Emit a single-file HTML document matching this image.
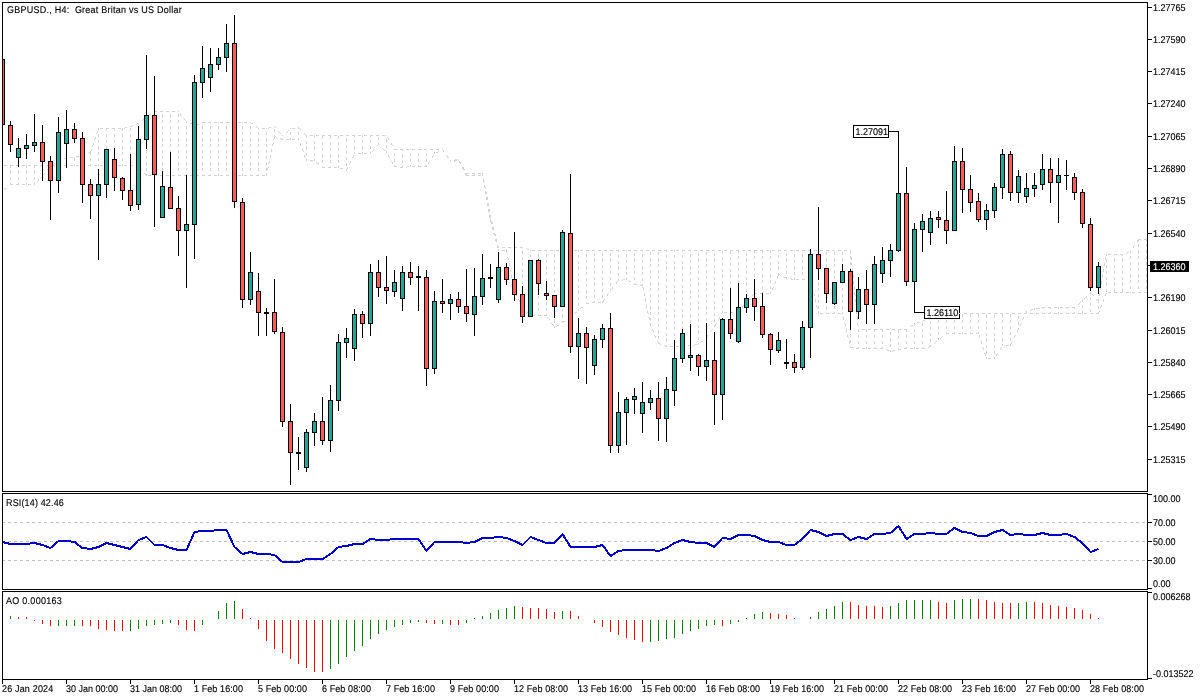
<!DOCTYPE html>
<html><head><meta charset="utf-8"><title>GBPUSD H4</title>
<style>
html,body{margin:0;padding:0;background:#fff;}
body{width:1200px;height:700px;position:relative;overflow:hidden;font-family:"Liberation Sans",sans-serif;}
svg{position:absolute;left:0;top:0;}
.t{position:absolute;font-family:"Liberation Sans",sans-serif;font-size:9px;line-height:10px;white-space:pre;color:#000;transform:scaleY(1.087);transform-origin:0 0;text-rendering:geometricPrecision;-webkit-text-stroke:0.12px;}
</style></head><body>
<svg width="1200" height="700" viewBox="0 0 1200 700" shape-rendering="crispEdges">
<rect x="889" y="131" width="10" height="1" fill="#000"/>
<rect x="853" y="125" width="36" height="13" fill="#000"/>
<rect x="854" y="126" width="34" height="11" fill="#fff"/>
<rect x="914" y="312" width="10" height="1" fill="#000"/>
<rect x="924" y="306" width="36" height="13" fill="#000"/>
<rect x="925" y="307" width="34" height="11" fill="#fff"/>
<path fill="#D3D3D3" d="M154 111h3v1h-3zM160 111h3v1h-3zM166 111h3v1h-3zM172 111h3v1h-3zM178 111h1v1h-1zM180 113h1v1h-1zM149 114h2v1h-2zM154 114h1v1h-1zM162 114h1v1h-1zM170 114h1v1h-1zM178 114h1v1h-1zM180 114h1v1h-1zM148 115h1v1h-1zM154 115h1v1h-1zM162 115h1v1h-1zM170 115h1v1h-1zM178 115h1v1h-1zM181 115h1v1h-1zM146 116h1v1h-1zM154 116h1v1h-1zM162 116h1v1h-1zM170 116h1v1h-1zM178 116h1v1h-1zM144 118h1v1h-1zM143 119h1v1h-1zM184 119h1v1h-1zM142 120h1v1h-1zM146 120h1v1h-1zM154 120h1v1h-1zM162 120h1v1h-1zM170 120h1v1h-1zM178 120h1v1h-1zM185 120h1v1h-1zM146 121h1v1h-1zM154 121h1v1h-1zM162 121h1v1h-1zM170 121h1v1h-1zM178 121h1v1h-1zM186 121h1v1h-1zM146 122h1v1h-1zM154 122h1v1h-1zM162 122h1v1h-1zM170 122h1v1h-1zM178 122h1v1h-1zM186 122h1v1h-1zM202 122h3v1h-3zM208 122h3v1h-3zM214 122h3v1h-3zM218 122h1v1h-1zM220 122h3v1h-3zM226 122h3v1h-3zM232 122h3v1h-3zM238 122h3v1h-3zM242 122h1v1h-1zM244 122h3v1h-3zM250 122h1v1h-1zM137 123h2v1h-2zM190 123h2v1h-2zM251 123h2v1h-2zM136 124h1v1h-1zM138 124h1v1h-1zM192 124h1v1h-1zM196 124h3v1h-3zM132 125h1v1h-1zM130 126h2v1h-2zM146 126h1v1h-1zM154 126h1v1h-1zM162 126h1v1h-1zM170 126h1v1h-1zM178 126h1v1h-1zM186 126h1v1h-1zM194 126h1v1h-1zM202 126h1v1h-1zM210 126h1v1h-1zM218 126h1v1h-1zM226 126h1v1h-1zM234 126h1v1h-1zM242 126h1v1h-1zM250 126h1v1h-1zM256 126h1v1h-1zM274 126h1v1h-1zM125 127h2v1h-2zM146 127h1v1h-1zM154 127h1v1h-1zM162 127h1v1h-1zM170 127h1v1h-1zM178 127h1v1h-1zM186 127h1v1h-1zM194 127h1v1h-1zM202 127h1v1h-1zM210 127h1v1h-1zM218 127h1v1h-1zM226 127h1v1h-1zM234 127h1v1h-1zM242 127h1v1h-1zM250 127h1v1h-1zM257 127h1v1h-1zM269 127h2v1h-2zM275 127h1v1h-1zM298 127h1v1h-1zM98 128h1v1h-1zM100 128h3v1h-3zM106 128h3v1h-3zM112 128h3v1h-3zM118 128h3v1h-3zM122 128h1v1h-1zM124 128h1v1h-1zM130 128h1v1h-1zM138 128h1v1h-1zM146 128h1v1h-1zM154 128h1v1h-1zM162 128h1v1h-1zM170 128h1v1h-1zM178 128h1v1h-1zM186 128h1v1h-1zM194 128h1v1h-1zM202 128h1v1h-1zM210 128h1v1h-1zM218 128h1v1h-1zM226 128h1v1h-1zM234 128h1v1h-1zM242 128h1v1h-1zM250 128h1v1h-1zM258 128h1v1h-1zM262 128h3v1h-3zM266 128h1v1h-1zM268 128h1v1h-1zM290 128h1v1h-1zM292 128h3v1h-3zM298 128h2v1h-2zM98 129h1v1h-1zM106 129h1v1h-1zM114 129h1v1h-1zM122 129h1v1h-1zM130 129h1v1h-1zM138 129h1v1h-1zM274 129h1v1h-1zM300 129h1v1h-1zM98 130h1v1h-1zM106 130h1v1h-1zM114 130h1v1h-1zM122 130h1v1h-1zM130 130h1v1h-1zM138 130h1v1h-1zM274 130h1v1h-1zM288 130h1v1h-1zM97 131h1v1h-1zM274 131h1v1h-1zM278 131h1v1h-1zM287 131h1v1h-1zM97 132h1v1h-1zM146 132h1v1h-1zM154 132h1v1h-1zM162 132h1v1h-1zM170 132h1v1h-1zM178 132h1v1h-1zM186 132h1v1h-1zM194 132h1v1h-1zM202 132h1v1h-1zM210 132h1v1h-1zM218 132h1v1h-1zM226 132h1v1h-1zM234 132h1v1h-1zM242 132h1v1h-1zM250 132h1v1h-1zM258 132h1v1h-1zM266 132h1v1h-1zM279 132h1v1h-1zM286 132h1v1h-1zM290 132h1v1h-1zM298 132h1v1h-1zM96 133h1v1h-1zM146 133h1v1h-1zM154 133h1v1h-1zM162 133h1v1h-1zM170 133h1v1h-1zM178 133h1v1h-1zM186 133h1v1h-1zM194 133h1v1h-1zM202 133h1v1h-1zM210 133h1v1h-1zM218 133h1v1h-1zM226 133h1v1h-1zM234 133h1v1h-1zM242 133h1v1h-1zM250 133h1v1h-1zM258 133h1v1h-1zM266 133h1v1h-1zM280 133h1v1h-1zM290 133h1v1h-1zM298 133h1v1h-1zM304 133h1v1h-1zM98 134h1v1h-1zM106 134h1v1h-1zM114 134h1v1h-1zM122 134h1v1h-1zM130 134h1v1h-1zM138 134h1v1h-1zM146 134h1v1h-1zM154 134h1v1h-1zM162 134h1v1h-1zM170 134h1v1h-1zM178 134h1v1h-1zM186 134h1v1h-1zM194 134h1v1h-1zM202 134h1v1h-1zM210 134h1v1h-1zM218 134h1v1h-1zM226 134h1v1h-1zM234 134h1v1h-1zM242 134h1v1h-1zM250 134h1v1h-1zM258 134h1v1h-1zM266 134h1v1h-1zM290 134h1v1h-1zM298 134h1v1h-1zM305 134h1v1h-1zM98 135h1v1h-1zM106 135h1v1h-1zM114 135h1v1h-1zM122 135h1v1h-1zM130 135h1v1h-1zM138 135h1v1h-1zM274 135h1v1h-1zM282 135h1v1h-1zM306 135h1v1h-1zM310 135h3v1h-3zM314 135h1v1h-1zM316 135h3v1h-3zM322 135h3v1h-3zM328 135h3v1h-3zM334 135h3v1h-3zM340 135h3v1h-3zM346 135h3v1h-3zM352 135h3v1h-3zM358 135h3v1h-3zM362 135h1v1h-1zM364 135h3v1h-3zM370 135h3v1h-3zM376 135h3v1h-3zM382 135h3v1h-3zM386 135h1v1h-1zM98 136h1v1h-1zM106 136h1v1h-1zM114 136h1v1h-1zM122 136h1v1h-1zM130 136h1v1h-1zM138 136h1v1h-1zM274 136h2v1h-2zM306 136h1v1h-1zM314 136h1v1h-1zM322 136h1v1h-1zM330 136h1v1h-1zM338 136h1v1h-1zM354 136h1v1h-1zM362 136h1v1h-1zM370 136h1v1h-1zM95 137h1v1h-1zM274 137h1v1h-1zM276 137h1v1h-1zM306 137h1v1h-1zM314 137h1v1h-1zM322 137h1v1h-1zM330 137h1v1h-1zM338 137h1v1h-1zM378 137h1v1h-1zM387 137h1v1h-1zM95 138h1v1h-1zM146 138h1v1h-1zM154 138h1v1h-1zM162 138h1v1h-1zM170 138h1v1h-1zM178 138h1v1h-1zM186 138h1v1h-1zM194 138h1v1h-1zM202 138h1v1h-1zM210 138h1v1h-1zM218 138h1v1h-1zM226 138h1v1h-1zM234 138h1v1h-1zM242 138h1v1h-1zM250 138h1v1h-1zM258 138h1v1h-1zM266 138h1v1h-1zM274 138h1v1h-1zM280 138h1v1h-1zM282 138h1v1h-1zM290 138h1v1h-1zM298 138h1v1h-1zM322 138h1v1h-1zM330 138h1v1h-1zM338 138h1v1h-1zM378 138h1v1h-1zM388 138h1v1h-1zM94 139h1v1h-1zM146 139h1v1h-1zM154 139h1v1h-1zM162 139h1v1h-1zM170 139h1v1h-1zM178 139h1v1h-1zM186 139h1v1h-1zM194 139h1v1h-1zM202 139h1v1h-1zM210 139h1v1h-1zM218 139h1v1h-1zM226 139h1v1h-1zM234 139h1v1h-1zM242 139h1v1h-1zM250 139h1v1h-1zM258 139h1v1h-1zM266 139h1v1h-1zM273 139h1v1h-1zM281 139h2v1h-2zM286 139h3v1h-3zM290 139h1v1h-1zM292 139h3v1h-3zM298 139h1v1h-1zM346 139h1v1h-1zM378 139h1v1h-1zM386 139h1v1h-1zM388 139h1v1h-1zM98 140h1v1h-1zM106 140h1v1h-1zM114 140h1v1h-1zM122 140h1v1h-1zM130 140h1v1h-1zM138 140h1v1h-1zM146 140h1v1h-1zM154 140h1v1h-1zM162 140h1v1h-1zM170 140h1v1h-1zM178 140h1v1h-1zM186 140h1v1h-1zM194 140h1v1h-1zM202 140h1v1h-1zM210 140h1v1h-1zM218 140h1v1h-1zM226 140h1v1h-1zM234 140h1v1h-1zM242 140h1v1h-1zM250 140h1v1h-1zM258 140h1v1h-1zM266 140h1v1h-1zM346 140h1v1h-1zM354 140h1v1h-1zM362 140h1v1h-1zM370 140h1v1h-1zM386 140h1v1h-1zM98 141h1v1h-1zM106 141h1v1h-1zM114 141h1v1h-1zM122 141h1v1h-1zM130 141h1v1h-1zM138 141h1v1h-1zM306 141h1v1h-1zM314 141h1v1h-1zM346 141h1v1h-1zM354 141h1v1h-1zM362 141h1v1h-1zM370 141h1v1h-1zM386 141h1v1h-1zM98 142h1v1h-1zM106 142h1v1h-1zM114 142h1v1h-1zM122 142h1v1h-1zM130 142h1v1h-1zM138 142h1v1h-1zM306 142h1v1h-1zM314 142h1v1h-1zM322 142h1v1h-1zM330 142h1v1h-1zM338 142h1v1h-1zM354 142h1v1h-1zM362 142h1v1h-1zM370 142h1v1h-1zM93 143h1v1h-1zM273 143h1v1h-1zM300 143h1v1h-1zM306 143h1v1h-1zM314 143h1v1h-1zM322 143h1v1h-1zM330 143h1v1h-1zM338 143h1v1h-1zM378 143h1v1h-1zM391 143h1v1h-1zM93 144h1v1h-1zM146 144h1v1h-1zM154 144h1v1h-1zM162 144h1v1h-1zM170 144h1v1h-1zM178 144h1v1h-1zM186 144h1v1h-1zM194 144h1v1h-1zM202 144h1v1h-1zM210 144h1v1h-1zM218 144h1v1h-1zM226 144h1v1h-1zM234 144h1v1h-1zM242 144h1v1h-1zM250 144h1v1h-1zM258 144h1v1h-1zM266 144h1v1h-1zM272 144h1v1h-1zM300 144h1v1h-1zM322 144h1v1h-1zM330 144h1v1h-1zM338 144h1v1h-1zM378 144h1v1h-1zM391 144h1v1h-1zM92 145h1v1h-1zM146 145h1v1h-1zM154 145h1v1h-1zM162 145h1v1h-1zM170 145h1v1h-1zM178 145h1v1h-1zM186 145h1v1h-1zM194 145h1v1h-1zM202 145h1v1h-1zM210 145h1v1h-1zM218 145h1v1h-1zM226 145h1v1h-1zM234 145h1v1h-1zM242 145h1v1h-1zM250 145h1v1h-1zM258 145h1v1h-1zM266 145h1v1h-1zM272 145h1v1h-1zM300 145h1v1h-1zM346 145h1v1h-1zM377 145h1v1h-1zM386 145h1v1h-1zM392 145h1v1h-1zM98 146h1v1h-1zM106 146h1v1h-1zM114 146h1v1h-1zM122 146h1v1h-1zM130 146h1v1h-1zM138 146h1v1h-1zM146 146h1v1h-1zM154 146h1v1h-1zM162 146h1v1h-1zM170 146h1v1h-1zM178 146h1v1h-1zM186 146h1v1h-1zM194 146h1v1h-1zM202 146h1v1h-1zM210 146h1v1h-1zM218 146h1v1h-1zM226 146h1v1h-1zM234 146h1v1h-1zM242 146h1v1h-1zM250 146h1v1h-1zM258 146h1v1h-1zM266 146h1v1h-1zM346 146h1v1h-1zM354 146h1v1h-1zM362 146h1v1h-1zM370 146h1v1h-1zM386 146h1v1h-1zM98 147h1v1h-1zM106 147h1v1h-1zM114 147h1v1h-1zM122 147h1v1h-1zM130 147h1v1h-1zM138 147h1v1h-1zM306 147h1v1h-1zM314 147h1v1h-1zM346 147h1v1h-1zM354 147h1v1h-1zM362 147h1v1h-1zM370 147h1v1h-1zM386 147h1v1h-1zM98 148h1v1h-1zM106 148h1v1h-1zM114 148h1v1h-1zM122 148h1v1h-1zM130 148h1v1h-1zM138 148h1v1h-1zM306 148h1v1h-1zM314 148h1v1h-1zM322 148h1v1h-1zM330 148h1v1h-1zM338 148h1v1h-1zM354 148h1v1h-1zM362 148h1v1h-1zM370 148h1v1h-1zM382 148h1v1h-1zM91 149h1v1h-1zM271 149h1v1h-1zM302 149h1v1h-1zM306 149h1v1h-1zM314 149h1v1h-1zM322 149h1v1h-1zM330 149h1v1h-1zM338 149h1v1h-1zM374 149h1v1h-1zM383 149h1v1h-1zM394 149h3v1h-3zM400 149h3v1h-3zM406 149h3v1h-3zM410 149h1v1h-1zM412 149h3v1h-3zM418 149h3v1h-3zM424 149h3v1h-3zM430 149h3v1h-3zM436 149h3v1h-3zM442 149h1v1h-1zM91 150h1v1h-1zM146 150h1v1h-1zM154 150h1v1h-1zM162 150h1v1h-1zM170 150h1v1h-1zM178 150h1v1h-1zM186 150h1v1h-1zM194 150h1v1h-1zM202 150h1v1h-1zM210 150h1v1h-1zM218 150h1v1h-1zM226 150h1v1h-1zM234 150h1v1h-1zM242 150h1v1h-1zM250 150h1v1h-1zM258 150h1v1h-1zM266 150h1v1h-1zM271 150h1v1h-1zM302 150h1v1h-1zM322 150h1v1h-1zM330 150h1v1h-1zM338 150h1v1h-1zM373 150h1v1h-1zM384 150h1v1h-1zM402 150h1v1h-1zM443 150h1v1h-1zM90 151h1v1h-1zM146 151h1v1h-1zM154 151h1v1h-1zM162 151h1v1h-1zM170 151h1v1h-1zM178 151h1v1h-1zM186 151h1v1h-1zM194 151h1v1h-1zM202 151h1v1h-1zM210 151h1v1h-1zM218 151h1v1h-1zM226 151h1v1h-1zM234 151h1v1h-1zM242 151h1v1h-1zM250 151h1v1h-1zM258 151h1v1h-1zM266 151h1v1h-1zM271 151h1v1h-1zM303 151h1v1h-1zM346 151h1v1h-1zM372 151h1v1h-1zM386 151h1v1h-1zM438 151h1v1h-1zM443 151h1v1h-1zM89 152h2v1h-2zM98 152h1v1h-1zM106 152h1v1h-1zM114 152h1v1h-1zM122 152h1v1h-1zM130 152h1v1h-1zM138 152h1v1h-1zM146 152h1v1h-1zM154 152h1v1h-1zM162 152h1v1h-1zM170 152h1v1h-1zM178 152h1v1h-1zM186 152h1v1h-1zM194 152h1v1h-1zM202 152h1v1h-1zM210 152h1v1h-1zM218 152h1v1h-1zM226 152h1v1h-1zM234 152h1v1h-1zM242 152h1v1h-1zM250 152h1v1h-1zM258 152h1v1h-1zM266 152h1v1h-1zM346 152h1v1h-1zM354 152h1v1h-1zM362 152h1v1h-1zM370 152h1v1h-1zM386 152h1v1h-1zM434 152h1v1h-1zM436 152h2v1h-2zM88 153h1v1h-1zM90 153h1v1h-1zM98 153h1v1h-1zM106 153h1v1h-1zM114 153h1v1h-1zM122 153h1v1h-1zM130 153h1v1h-1zM138 153h1v1h-1zM306 153h1v1h-1zM314 153h1v1h-1zM346 153h1v1h-1zM354 153h1v1h-1zM358 153h3v1h-3zM362 153h1v1h-1zM364 153h3v1h-3zM370 153h1v1h-1zM394 153h1v1h-1zM410 153h1v1h-1zM418 153h1v1h-1zM426 153h1v1h-1zM434 153h1v1h-1zM82 154h3v1h-3zM90 154h1v1h-1zM98 154h1v1h-1zM106 154h1v1h-1zM114 154h1v1h-1zM122 154h1v1h-1zM130 154h1v1h-1zM138 154h1v1h-1zM306 154h1v1h-1zM314 154h1v1h-1zM322 154h1v1h-1zM330 154h1v1h-1zM338 154h1v1h-1zM394 154h1v1h-1zM402 154h1v1h-1zM410 154h1v1h-1zM418 154h1v1h-1zM426 154h1v1h-1zM270 155h1v1h-1zM304 155h1v1h-1zM306 155h1v1h-1zM314 155h1v1h-1zM322 155h1v1h-1zM330 155h1v1h-1zM338 155h1v1h-1zM353 155h1v1h-1zM388 155h1v1h-1zM394 155h1v1h-1zM402 155h1v1h-1zM410 155h1v1h-1zM418 155h1v1h-1zM426 155h1v1h-1zM433 155h1v1h-1zM446 155h1v1h-1zM76 156h3v1h-3zM146 156h1v1h-1zM154 156h1v1h-1zM162 156h1v1h-1zM170 156h1v1h-1zM178 156h1v1h-1zM186 156h1v1h-1zM194 156h1v1h-1zM202 156h1v1h-1zM210 156h1v1h-1zM218 156h1v1h-1zM226 156h1v1h-1zM234 156h1v1h-1zM242 156h1v1h-1zM250 156h1v1h-1zM258 156h1v1h-1zM266 156h1v1h-1zM270 156h1v1h-1zM304 156h1v1h-1zM322 156h1v1h-1zM330 156h1v1h-1zM338 156h1v1h-1zM353 156h1v1h-1zM388 156h1v1h-1zM402 156h1v1h-1zM432 156h1v1h-1zM447 156h1v1h-1zM66 157h1v1h-1zM70 157h3v1h-3zM146 157h1v1h-1zM154 157h1v1h-1zM162 157h1v1h-1zM170 157h1v1h-1zM178 157h1v1h-1zM186 157h1v1h-1zM194 157h1v1h-1zM202 157h1v1h-1zM210 157h1v1h-1zM218 157h1v1h-1zM226 157h1v1h-1zM234 157h1v1h-1zM242 157h1v1h-1zM250 157h1v1h-1zM258 157h1v1h-1zM266 157h1v1h-1zM270 157h1v1h-1zM305 157h1v1h-1zM346 157h1v1h-1zM352 157h1v1h-1zM389 157h1v1h-1zM432 157h1v1h-1zM447 157h2v1h-2zM64 158h3v1h-3zM74 158h1v1h-1zM82 158h1v1h-1zM90 158h1v1h-1zM98 158h1v1h-1zM106 158h1v1h-1zM114 158h1v1h-1zM122 158h1v1h-1zM130 158h1v1h-1zM138 158h1v1h-1zM146 158h1v1h-1zM154 158h1v1h-1zM162 158h1v1h-1zM170 158h1v1h-1zM178 158h1v1h-1zM186 158h1v1h-1zM194 158h1v1h-1zM202 158h1v1h-1zM210 158h1v1h-1zM218 158h1v1h-1zM226 158h1v1h-1zM234 158h1v1h-1zM242 158h1v1h-1zM250 158h1v1h-1zM258 158h1v1h-1zM266 158h1v1h-1zM346 158h1v1h-1zM66 159h1v1h-1zM74 159h1v1h-1zM82 159h1v1h-1zM90 159h1v1h-1zM98 159h1v1h-1zM106 159h1v1h-1zM114 159h1v1h-1zM122 159h1v1h-1zM130 159h1v1h-1zM138 159h1v1h-1zM306 159h1v1h-1zM314 159h1v1h-1zM346 159h1v1h-1zM394 159h1v1h-1zM410 159h1v1h-1zM418 159h1v1h-1zM426 159h1v1h-1zM455 159h2v1h-2zM458 159h1v1h-1zM60 160h1v1h-1zM66 160h1v1h-1zM74 160h1v1h-1zM82 160h1v1h-1zM90 160h1v1h-1zM98 160h1v1h-1zM106 160h1v1h-1zM114 160h1v1h-1zM122 160h1v1h-1zM130 160h1v1h-1zM138 160h1v1h-1zM306 160h1v1h-1zM310 160h3v1h-3zM314 160h1v1h-1zM322 160h1v1h-1zM330 160h1v1h-1zM338 160h1v1h-1zM394 160h1v1h-1zM402 160h1v1h-1zM410 160h1v1h-1zM418 160h1v1h-1zM426 160h1v1h-1zM450 160h1v1h-1zM454 160h3v1h-3zM458 160h1v1h-1zM58 161h2v1h-2zM269 161h1v1h-1zM322 161h1v1h-1zM330 161h1v1h-1zM338 161h1v1h-1zM350 161h1v1h-1zM391 161h1v1h-1zM394 161h1v1h-1zM402 161h1v1h-1zM410 161h1v1h-1zM418 161h1v1h-1zM426 161h1v1h-1zM429 161h1v1h-1zM450 161h1v1h-1zM454 161h1v1h-1zM459 161h1v1h-1zM146 162h1v1h-1zM154 162h1v1h-1zM162 162h1v1h-1zM170 162h1v1h-1zM178 162h1v1h-1zM186 162h1v1h-1zM194 162h1v1h-1zM202 162h1v1h-1zM210 162h1v1h-1zM218 162h1v1h-1zM226 162h1v1h-1zM234 162h1v1h-1zM242 162h1v1h-1zM250 162h1v1h-1zM258 162h1v1h-1zM266 162h1v1h-1zM269 162h1v1h-1zM316 162h1v1h-1zM322 162h1v1h-1zM330 162h1v1h-1zM338 162h1v1h-1zM350 162h1v1h-1zM392 162h1v1h-1zM402 162h1v1h-1zM428 162h1v1h-1zM459 162h2v1h-2zM54 163h1v1h-1zM146 163h1v1h-1zM154 163h1v1h-1zM162 163h1v1h-1zM170 163h1v1h-1zM178 163h1v1h-1zM186 163h1v1h-1zM194 163h1v1h-1zM202 163h1v1h-1zM210 163h1v1h-1zM218 163h1v1h-1zM226 163h1v1h-1zM234 163h1v1h-1zM242 163h1v1h-1zM250 163h1v1h-1zM258 163h1v1h-1zM266 163h1v1h-1zM268 163h1v1h-1zM317 163h2v1h-2zM346 163h1v1h-1zM349 163h1v1h-1zM392 163h1v1h-1zM428 163h1v1h-1zM460 163h1v1h-1zM52 164h2v1h-2zM58 164h1v1h-1zM66 164h1v1h-1zM74 164h1v1h-1zM82 164h1v1h-1zM90 164h1v1h-1zM98 164h1v1h-1zM106 164h1v1h-1zM114 164h1v1h-1zM122 164h1v1h-1zM130 164h1v1h-1zM138 164h1v1h-1zM146 164h1v1h-1zM154 164h1v1h-1zM162 164h1v1h-1zM170 164h1v1h-1zM178 164h1v1h-1zM186 164h1v1h-1zM194 164h1v1h-1zM202 164h1v1h-1zM210 164h1v1h-1zM218 164h1v1h-1zM226 164h1v1h-1zM234 164h1v1h-1zM242 164h1v1h-1zM250 164h1v1h-1zM258 164h1v1h-1zM266 164h1v1h-1zM346 164h1v1h-1zM4 165h3v1h-3zM10 165h3v1h-3zM16 165h3v1h-3zM22 165h3v1h-3zM26 165h1v1h-1zM28 165h3v1h-3zM34 165h3v1h-3zM40 165h3v1h-3zM46 165h3v1h-3zM50 165h1v1h-1zM52 165h3v1h-3zM58 165h3v1h-3zM64 165h3v1h-3zM70 165h3v1h-3zM74 165h1v1h-1zM76 165h3v1h-3zM82 165h3v1h-3zM88 165h3v1h-3zM94 165h3v1h-3zM98 165h1v1h-1zM100 165h3v1h-3zM106 165h3v1h-3zM112 165h3v1h-3zM118 165h3v1h-3zM122 165h1v1h-1zM124 165h3v1h-3zM130 165h3v1h-3zM136 165h3v1h-3zM346 165h1v1h-1zM394 165h1v1h-1zM410 165h1v1h-1zM418 165h1v1h-1zM426 165h1v1h-1zM10 166h1v1h-1zM18 166h1v1h-1zM26 166h1v1h-1zM34 166h1v1h-1zM322 166h1v1h-1zM330 166h1v1h-1zM338 166h1v1h-1zM394 166h3v1h-3zM402 166h1v1h-1zM407 166h2v1h-2zM410 166h1v1h-1zM412 166h3v1h-3zM418 166h3v1h-3zM424 166h3v1h-3zM10 167h1v1h-1zM18 167h1v1h-1zM26 167h1v1h-1zM34 167h1v1h-1zM48 167h1v1h-1zM140 167h1v1h-1zM268 167h1v1h-1zM322 167h3v1h-3zM328 167h3v1h-3zM334 167h3v1h-3zM338 167h1v1h-1zM347 167h1v1h-1zM400 167h3v1h-3zM406 167h1v1h-1zM462 167h2v1h-2zM42 168h1v1h-1zM48 168h1v1h-1zM140 168h1v1h-1zM146 168h1v1h-1zM154 168h1v1h-1zM162 168h1v1h-1zM170 168h1v1h-1zM178 168h1v1h-1zM186 168h1v1h-1zM194 168h1v1h-1zM202 168h1v1h-1zM210 168h1v1h-1zM218 168h1v1h-1zM226 168h1v1h-1zM234 168h1v1h-1zM242 168h1v1h-1zM250 168h1v1h-1zM258 168h1v1h-1zM266 168h2v1h-2zM340 168h3v1h-3zM347 168h1v1h-1zM462 168h2v1h-2zM42 169h1v1h-1zM47 169h1v1h-1zM141 169h1v1h-1zM146 169h1v1h-1zM154 169h1v1h-1zM162 169h1v1h-1zM170 169h1v1h-1zM178 169h1v1h-1zM186 169h1v1h-1zM194 169h1v1h-1zM202 169h1v1h-1zM210 169h1v1h-1zM218 169h1v1h-1zM226 169h1v1h-1zM234 169h1v1h-1zM242 169h1v1h-1zM250 169h1v1h-1zM258 169h1v1h-1zM266 169h2v1h-2zM346 169h1v1h-1zM463 169h2v1h-2zM42 170h1v1h-1zM146 170h1v1h-1zM154 170h1v1h-1zM162 170h1v1h-1zM170 170h1v1h-1zM178 170h1v1h-1zM186 170h1v1h-1zM194 170h1v1h-1zM202 170h1v1h-1zM210 170h1v1h-1zM218 170h1v1h-1zM226 170h1v1h-1zM234 170h1v1h-1zM242 170h1v1h-1zM250 170h1v1h-1zM258 170h1v1h-1zM266 170h1v1h-1zM346 170h1v1h-1zM10 171h1v1h-1zM18 171h1v1h-1zM26 171h1v1h-1zM34 171h1v1h-1zM10 172h1v1h-1zM18 172h1v1h-1zM26 172h1v1h-1zM34 172h1v1h-1zM10 173h1v1h-1zM18 173h1v1h-1zM26 173h1v1h-1zM34 173h1v1h-1zM44 173h1v1h-1zM144 173h1v1h-1zM266 173h1v1h-1zM465 173h4v1h-4zM472 173h3v1h-3zM478 173h3v1h-3zM482 173h1v1h-1zM42 174h2v1h-2zM145 174h2v1h-2zM154 174h1v1h-1zM162 174h1v1h-1zM170 174h1v1h-1zM178 174h1v1h-1zM186 174h1v1h-1zM194 174h1v1h-1zM202 174h1v1h-1zM210 174h1v1h-1zM218 174h1v1h-1zM226 174h1v1h-1zM234 174h1v1h-1zM242 174h1v1h-1zM250 174h1v1h-1zM258 174h1v1h-1zM266 174h1v1h-1zM465 174h2v1h-2zM474 174h1v1h-1zM482 174h1v1h-1zM42 175h1v1h-1zM146 175h1v1h-1zM148 175h3v1h-3zM154 175h3v1h-3zM160 175h3v1h-3zM166 175h3v1h-3zM170 175h1v1h-1zM172 175h3v1h-3zM178 175h3v1h-3zM184 175h3v1h-3zM190 175h3v1h-3zM194 175h1v1h-1zM196 175h3v1h-3zM202 175h3v1h-3zM208 175h3v1h-3zM214 175h3v1h-3zM218 175h1v1h-1zM220 175h3v1h-3zM226 175h3v1h-3zM232 175h3v1h-3zM238 175h3v1h-3zM242 175h1v1h-1zM244 175h3v1h-3zM250 175h3v1h-3zM256 175h3v1h-3zM262 175h3v1h-3zM266 175h1v1h-1zM466 175h3v1h-3zM472 175h3v1h-3zM478 175h3v1h-3zM482 175h1v1h-1zM10 177h1v1h-1zM18 177h1v1h-1zM26 177h1v1h-1zM34 177h1v1h-1zM10 178h1v1h-1zM18 178h1v1h-1zM26 178h1v1h-1zM34 178h1v1h-1zM10 179h1v1h-1zM18 179h1v1h-1zM26 179h1v1h-1zM34 179h1v1h-1zM38 179h1v1h-1zM483 179h1v1h-1zM38 180h1v1h-1zM483 180h1v1h-1zM37 181h1v1h-1zM483 181h2v1h-2zM10 183h1v1h-1zM18 183h1v1h-1zM26 183h1v1h-1zM34 183h1v1h-1zM10 184h3v1h-3zM16 184h3v1h-3zM22 184h3v1h-3zM26 184h1v1h-1zM28 184h3v1h-3zM34 184h1v1h-1zM484 185h1v1h-1zM484 186h1v1h-1zM484 187h2v1h-2zM5 188h2v1h-2zM4 189h1v1h-1zM485 191h1v1h-1zM485 192h2v1h-2zM485 193h2v1h-2zM486 197h2v1h-2zM486 198h2v1h-2zM486 199h2v1h-2zM487 203h2v1h-2zM487 204h2v1h-2zM487 205h2v1h-2zM488 209h2v1h-2zM488 210h2v1h-2zM488 211h2v1h-2zM489 215h2v1h-2zM489 216h2v1h-2zM489 217h2v1h-2zM490 219h1v1h-1zM490 220h1v1h-1zM490 221h2v1h-2zM491 222h2v1h-2zM491 223h2v1h-2zM492 227h2v1h-2zM492 228h2v1h-2zM492 229h2v1h-2zM493 233h2v1h-2zM494 234h2v1h-2zM494 235h2v1h-2zM495 239h2v1h-2zM1138 239h3v1h-3zM1144 239h3v1h-3zM495 240h2v1h-2zM1137 240h2v1h-2zM1146 240h1v1h-1zM496 241h1v1h-1zM1137 241h1v1h-1zM1138 244h1v1h-1zM1146 244h1v1h-1zM497 245h1v1h-1zM1134 245h1v1h-1zM1138 245h1v1h-1zM1146 245h1v1h-1zM497 246h2v1h-2zM1133 246h1v1h-1zM1138 246h1v1h-1zM1146 246h1v1h-1zM497 247h2v1h-2zM502 247h3v1h-3zM508 247h3v1h-3zM514 247h3v1h-3zM520 247h3v1h-3zM1133 247h1v1h-1zM514 248h1v1h-1zM526 248h1v1h-1zM498 249h1v1h-1zM506 249h1v1h-1zM514 249h1v1h-1zM527 249h2v1h-2zM498 250h1v1h-1zM502 250h3v1h-3zM506 250h1v1h-1zM514 250h1v1h-1zM530 250h1v1h-1zM532 250h3v1h-3zM538 250h3v1h-3zM544 250h3v1h-3zM550 250h3v1h-3zM554 250h1v1h-1zM556 250h3v1h-3zM562 250h3v1h-3zM568 250h3v1h-3zM574 250h3v1h-3zM578 250h1v1h-1zM580 250h3v1h-3zM586 250h3v1h-3zM592 250h3v1h-3zM598 250h3v1h-3zM604 250h3v1h-3zM610 250h3v1h-3zM616 250h3v1h-3zM622 250h3v1h-3zM626 250h1v1h-1zM628 250h3v1h-3zM634 250h3v1h-3zM640 250h3v1h-3zM646 250h3v1h-3zM652 250h3v1h-3zM658 250h3v1h-3zM664 250h3v1h-3zM670 250h3v1h-3zM674 250h1v1h-1zM676 250h3v1h-3zM682 250h3v1h-3zM688 250h3v1h-3zM694 250h3v1h-3zM700 250h3v1h-3zM706 250h3v1h-3zM712 250h3v1h-3zM718 250h3v1h-3zM724 250h3v1h-3zM730 250h3v1h-3zM736 250h3v1h-3zM742 250h3v1h-3zM748 250h3v1h-3zM754 250h3v1h-3zM760 250h3v1h-3zM766 250h3v1h-3zM770 250h1v1h-1zM772 250h3v1h-3zM778 250h3v1h-3zM784 250h3v1h-3zM790 250h3v1h-3zM794 250h1v1h-1zM796 250h3v1h-3zM802 250h3v1h-3zM808 250h3v1h-3zM814 250h3v1h-3zM820 250h3v1h-3zM826 250h3v1h-3zM832 250h3v1h-3zM838 250h3v1h-3zM844 250h3v1h-3zM850 250h1v1h-1zM1138 250h1v1h-1zM1146 250h1v1h-1zM506 251h1v1h-1zM522 251h1v1h-1zM562 251h1v1h-1zM570 251h1v1h-1zM578 251h1v1h-1zM618 251h1v1h-1zM666 251h1v1h-1zM674 251h1v1h-1zM682 251h1v1h-1zM722 251h1v1h-1zM730 251h1v1h-1zM738 251h1v1h-1zM754 251h1v1h-1zM762 251h1v1h-1zM770 251h1v1h-1zM778 251h1v1h-1zM850 251h1v1h-1zM1130 251h1v1h-1zM1138 251h1v1h-1zM1146 251h1v1h-1zM506 252h1v1h-1zM522 252h1v1h-1zM650 252h1v1h-1zM658 252h1v1h-1zM706 252h1v1h-1zM722 252h1v1h-1zM730 252h1v1h-1zM738 252h1v1h-1zM754 252h1v1h-1zM762 252h1v1h-1zM770 252h1v1h-1zM818 252h1v1h-1zM826 252h1v1h-1zM834 252h1v1h-1zM842 252h1v1h-1zM850 252h1v1h-1zM1127 252h2v1h-2zM1130 252h1v1h-1zM1138 252h1v1h-1zM1146 252h1v1h-1zM507 253h1v1h-1zM522 253h1v1h-1zM594 253h1v1h-1zM602 253h1v1h-1zM610 253h1v1h-1zM634 253h1v1h-1zM650 253h1v1h-1zM658 253h1v1h-1zM698 253h1v1h-1zM706 253h1v1h-1zM714 253h1v1h-1zM722 253h1v1h-1zM730 253h1v1h-1zM746 253h1v1h-1zM786 253h1v1h-1zM818 253h1v1h-1zM826 253h1v1h-1zM834 253h1v1h-1zM842 253h1v1h-1zM850 253h1v1h-1zM1126 253h1v1h-1zM514 254h1v1h-1zM530 254h1v1h-1zM538 254h1v1h-1zM546 254h1v1h-1zM554 254h1v1h-1zM586 254h1v1h-1zM594 254h1v1h-1zM602 254h1v1h-1zM610 254h1v1h-1zM626 254h1v1h-1zM634 254h1v1h-1zM642 254h1v1h-1zM650 254h1v1h-1zM658 254h1v1h-1zM690 254h1v1h-1zM698 254h1v1h-1zM706 254h1v1h-1zM714 254h1v1h-1zM746 254h1v1h-1zM786 254h1v1h-1zM794 254h1v1h-1zM802 254h1v1h-1zM810 254h1v1h-1zM818 254h1v1h-1zM826 254h1v1h-1zM834 254h1v1h-1zM842 254h1v1h-1zM1106 254h1v1h-1zM1108 254h3v1h-3zM1114 254h3v1h-3zM1120 254h3v1h-3zM514 255h1v1h-1zM530 255h1v1h-1zM538 255h1v1h-1zM546 255h1v1h-1zM554 255h1v1h-1zM562 255h1v1h-1zM570 255h1v1h-1zM578 255h1v1h-1zM586 255h1v1h-1zM594 255h1v1h-1zM602 255h1v1h-1zM610 255h1v1h-1zM618 255h1v1h-1zM626 255h1v1h-1zM634 255h1v1h-1zM642 255h1v1h-1zM666 255h1v1h-1zM674 255h1v1h-1zM682 255h1v1h-1zM690 255h1v1h-1zM698 255h1v1h-1zM714 255h1v1h-1zM746 255h1v1h-1zM778 255h1v1h-1zM786 255h1v1h-1zM794 255h1v1h-1zM802 255h1v1h-1zM810 255h1v1h-1zM1106 255h1v1h-1zM1114 255h1v1h-1zM1122 255h1v1h-1zM514 256h1v1h-1zM530 256h1v1h-1zM538 256h1v1h-1zM546 256h1v1h-1zM554 256h1v1h-1zM562 256h1v1h-1zM570 256h1v1h-1zM578 256h1v1h-1zM586 256h1v1h-1zM618 256h1v1h-1zM626 256h1v1h-1zM642 256h1v1h-1zM666 256h1v1h-1zM674 256h1v1h-1zM682 256h1v1h-1zM690 256h1v1h-1zM738 256h1v1h-1zM754 256h1v1h-1zM762 256h1v1h-1zM770 256h1v1h-1zM778 256h1v1h-1zM794 256h1v1h-1zM802 256h1v1h-1zM810 256h1v1h-1zM850 256h1v1h-1zM1130 256h1v1h-1zM1138 256h1v1h-1zM1146 256h1v1h-1zM507 257h1v1h-1zM522 257h1v1h-1zM562 257h1v1h-1zM570 257h1v1h-1zM578 257h1v1h-1zM618 257h1v1h-1zM666 257h1v1h-1zM674 257h1v1h-1zM682 257h1v1h-1zM722 257h1v1h-1zM730 257h1v1h-1zM738 257h1v1h-1zM754 257h1v1h-1zM762 257h1v1h-1zM770 257h1v1h-1zM778 257h1v1h-1zM850 257h2v1h-2zM1105 257h1v1h-1zM1130 257h1v1h-1zM1138 257h1v1h-1zM1146 257h1v1h-1zM508 258h1v1h-1zM522 258h1v1h-1zM650 258h1v1h-1zM658 258h1v1h-1zM706 258h1v1h-1zM722 258h1v1h-1zM730 258h1v1h-1zM738 258h1v1h-1zM754 258h1v1h-1zM762 258h1v1h-1zM770 258h1v1h-1zM818 258h1v1h-1zM826 258h1v1h-1zM834 258h1v1h-1zM842 258h1v1h-1zM850 258h2v1h-2zM1105 258h1v1h-1zM1130 258h1v1h-1zM1138 258h1v1h-1zM1146 258h1v1h-1zM508 259h1v1h-1zM522 259h1v1h-1zM594 259h1v1h-1zM602 259h1v1h-1zM610 259h1v1h-1zM634 259h1v1h-1zM650 259h1v1h-1zM658 259h1v1h-1zM698 259h1v1h-1zM706 259h1v1h-1zM714 259h1v1h-1zM722 259h1v1h-1zM730 259h1v1h-1zM746 259h1v1h-1zM786 259h1v1h-1zM818 259h1v1h-1zM826 259h1v1h-1zM834 259h1v1h-1zM842 259h1v1h-1zM851 259h1v1h-1zM1105 259h2v1h-2zM1114 259h1v1h-1zM1122 259h1v1h-1zM514 260h1v1h-1zM530 260h1v1h-1zM538 260h1v1h-1zM546 260h1v1h-1zM554 260h1v1h-1zM586 260h1v1h-1zM594 260h1v1h-1zM602 260h1v1h-1zM610 260h1v1h-1zM626 260h1v1h-1zM634 260h1v1h-1zM642 260h1v1h-1zM650 260h1v1h-1zM658 260h1v1h-1zM690 260h1v1h-1zM698 260h1v1h-1zM706 260h1v1h-1zM714 260h1v1h-1zM746 260h1v1h-1zM786 260h1v1h-1zM794 260h1v1h-1zM802 260h1v1h-1zM810 260h1v1h-1zM818 260h1v1h-1zM826 260h1v1h-1zM834 260h1v1h-1zM842 260h1v1h-1zM1106 260h1v1h-1zM1114 260h1v1h-1zM1122 260h1v1h-1zM514 261h1v1h-1zM530 261h1v1h-1zM538 261h1v1h-1zM546 261h1v1h-1zM554 261h1v1h-1zM562 261h1v1h-1zM570 261h1v1h-1zM578 261h1v1h-1zM586 261h1v1h-1zM594 261h1v1h-1zM602 261h1v1h-1zM610 261h1v1h-1zM618 261h1v1h-1zM626 261h1v1h-1zM634 261h1v1h-1zM642 261h1v1h-1zM666 261h1v1h-1zM674 261h1v1h-1zM682 261h1v1h-1zM690 261h1v1h-1zM698 261h1v1h-1zM714 261h1v1h-1zM746 261h1v1h-1zM778 261h1v1h-1zM786 261h1v1h-1zM794 261h1v1h-1zM802 261h1v1h-1zM810 261h1v1h-1zM1106 261h1v1h-1zM1114 261h1v1h-1zM1122 261h1v1h-1zM514 262h1v1h-1zM530 262h1v1h-1zM538 262h1v1h-1zM546 262h1v1h-1zM554 262h1v1h-1zM562 262h1v1h-1zM570 262h1v1h-1zM578 262h1v1h-1zM586 262h1v1h-1zM618 262h1v1h-1zM626 262h1v1h-1zM642 262h1v1h-1zM666 262h1v1h-1zM674 262h1v1h-1zM682 262h1v1h-1zM690 262h1v1h-1zM738 262h1v1h-1zM754 262h1v1h-1zM762 262h1v1h-1zM770 262h1v1h-1zM778 262h1v1h-1zM794 262h1v1h-1zM802 262h1v1h-1zM810 262h1v1h-1zM850 262h1v1h-1zM1130 262h1v1h-1zM1138 262h1v1h-1zM1146 262h1v1h-1zM509 263h1v1h-1zM522 263h1v1h-1zM562 263h1v1h-1zM570 263h1v1h-1zM578 263h1v1h-1zM618 263h1v1h-1zM666 263h1v1h-1zM674 263h1v1h-1zM682 263h1v1h-1zM722 263h1v1h-1zM730 263h1v1h-1zM738 263h1v1h-1zM754 263h1v1h-1zM762 263h1v1h-1zM770 263h1v1h-1zM778 263h1v1h-1zM850 263h2v1h-2zM1104 263h1v1h-1zM1130 263h1v1h-1zM1138 263h1v1h-1zM1146 263h1v1h-1zM509 264h1v1h-1zM522 264h1v1h-1zM650 264h1v1h-1zM658 264h1v1h-1zM706 264h1v1h-1zM722 264h1v1h-1zM730 264h1v1h-1zM738 264h1v1h-1zM754 264h1v1h-1zM762 264h1v1h-1zM770 264h1v1h-1zM818 264h1v1h-1zM826 264h1v1h-1zM834 264h1v1h-1zM842 264h1v1h-1zM850 264h2v1h-2zM1104 264h1v1h-1zM1130 264h1v1h-1zM1138 264h1v1h-1zM1146 264h1v1h-1zM509 265h1v1h-1zM522 265h1v1h-1zM594 265h1v1h-1zM602 265h1v1h-1zM610 265h1v1h-1zM634 265h1v1h-1zM650 265h1v1h-1zM658 265h1v1h-1zM698 265h1v1h-1zM706 265h1v1h-1zM714 265h1v1h-1zM722 265h1v1h-1zM730 265h1v1h-1zM746 265h1v1h-1zM786 265h1v1h-1zM818 265h1v1h-1zM826 265h1v1h-1zM834 265h1v1h-1zM842 265h1v1h-1zM852 265h1v1h-1zM1104 265h1v1h-1zM1106 265h1v1h-1zM1114 265h1v1h-1zM1122 265h1v1h-1zM514 266h1v1h-1zM530 266h1v1h-1zM538 266h1v1h-1zM546 266h1v1h-1zM554 266h1v1h-1zM586 266h1v1h-1zM594 266h1v1h-1zM602 266h1v1h-1zM610 266h1v1h-1zM626 266h1v1h-1zM634 266h1v1h-1zM642 266h1v1h-1zM650 266h1v1h-1zM658 266h1v1h-1zM690 266h1v1h-1zM698 266h1v1h-1zM706 266h1v1h-1zM714 266h1v1h-1zM746 266h1v1h-1zM786 266h1v1h-1zM794 266h1v1h-1zM802 266h1v1h-1zM810 266h1v1h-1zM818 266h1v1h-1zM826 266h1v1h-1zM834 266h1v1h-1zM842 266h1v1h-1zM1106 266h1v1h-1zM1114 266h1v1h-1zM1122 266h1v1h-1zM514 267h1v1h-1zM530 267h1v1h-1zM538 267h1v1h-1zM546 267h1v1h-1zM554 267h1v1h-1zM562 267h1v1h-1zM570 267h1v1h-1zM578 267h1v1h-1zM586 267h1v1h-1zM594 267h1v1h-1zM602 267h1v1h-1zM610 267h1v1h-1zM618 267h1v1h-1zM626 267h1v1h-1zM634 267h1v1h-1zM642 267h1v1h-1zM666 267h1v1h-1zM674 267h1v1h-1zM682 267h1v1h-1zM690 267h1v1h-1zM698 267h1v1h-1zM714 267h1v1h-1zM746 267h1v1h-1zM778 267h1v1h-1zM786 267h1v1h-1zM794 267h1v1h-1zM802 267h1v1h-1zM810 267h1v1h-1zM1106 267h1v1h-1zM1114 267h1v1h-1zM1122 267h1v1h-1zM514 268h1v1h-1zM530 268h1v1h-1zM538 268h1v1h-1zM546 268h1v1h-1zM554 268h1v1h-1zM562 268h1v1h-1zM570 268h1v1h-1zM578 268h1v1h-1zM586 268h1v1h-1zM618 268h1v1h-1zM626 268h1v1h-1zM642 268h1v1h-1zM666 268h1v1h-1zM674 268h1v1h-1zM682 268h1v1h-1zM690 268h1v1h-1zM738 268h1v1h-1zM754 268h1v1h-1zM762 268h1v1h-1zM770 268h1v1h-1zM778 268h1v1h-1zM794 268h1v1h-1zM802 268h1v1h-1zM810 268h1v1h-1zM850 268h1v1h-1zM1130 268h1v1h-1zM1138 268h1v1h-1zM1146 268h1v1h-1zM510 269h1v1h-1zM522 269h1v1h-1zM562 269h1v1h-1zM570 269h1v1h-1zM578 269h1v1h-1zM618 269h1v1h-1zM666 269h1v1h-1zM674 269h1v1h-1zM682 269h1v1h-1zM722 269h1v1h-1zM730 269h1v1h-1zM738 269h1v1h-1zM754 269h1v1h-1zM762 269h1v1h-1zM770 269h1v1h-1zM778 269h1v1h-1zM850 269h1v1h-1zM852 269h1v1h-1zM1103 269h1v1h-1zM1130 269h1v1h-1zM1138 269h1v1h-1zM1146 269h1v1h-1zM510 270h1v1h-1zM522 270h1v1h-1zM650 270h1v1h-1zM658 270h1v1h-1zM706 270h1v1h-1zM722 270h1v1h-1zM730 270h1v1h-1zM738 270h1v1h-1zM754 270h1v1h-1zM762 270h1v1h-1zM770 270h1v1h-1zM818 270h1v1h-1zM826 270h1v1h-1zM834 270h1v1h-1zM842 270h1v1h-1zM850 270h1v1h-1zM852 270h1v1h-1zM1103 270h1v1h-1zM1130 270h1v1h-1zM1138 270h1v1h-1zM1146 270h1v1h-1zM510 271h1v1h-1zM522 271h1v1h-1zM594 271h1v1h-1zM602 271h1v1h-1zM610 271h1v1h-1zM634 271h1v1h-1zM650 271h1v1h-1zM658 271h1v1h-1zM698 271h1v1h-1zM706 271h1v1h-1zM714 271h1v1h-1zM722 271h1v1h-1zM730 271h1v1h-1zM746 271h1v1h-1zM786 271h1v1h-1zM818 271h1v1h-1zM826 271h1v1h-1zM834 271h1v1h-1zM842 271h1v1h-1zM852 271h1v1h-1zM1103 271h1v1h-1zM1106 271h1v1h-1zM1114 271h1v1h-1zM1122 271h1v1h-1zM514 272h1v1h-1zM530 272h1v1h-1zM538 272h1v1h-1zM546 272h1v1h-1zM554 272h1v1h-1zM586 272h1v1h-1zM594 272h1v1h-1zM602 272h1v1h-1zM610 272h1v1h-1zM626 272h1v1h-1zM634 272h1v1h-1zM642 272h1v1h-1zM650 272h1v1h-1zM658 272h1v1h-1zM690 272h1v1h-1zM698 272h1v1h-1zM706 272h1v1h-1zM714 272h1v1h-1zM746 272h1v1h-1zM786 272h1v1h-1zM794 272h1v1h-1zM802 272h1v1h-1zM810 272h1v1h-1zM818 272h1v1h-1zM826 272h1v1h-1zM834 272h1v1h-1zM842 272h1v1h-1zM1106 272h1v1h-1zM1114 272h1v1h-1zM1122 272h1v1h-1zM514 273h1v1h-1zM530 273h1v1h-1zM538 273h1v1h-1zM546 273h1v1h-1zM554 273h1v1h-1zM562 273h1v1h-1zM570 273h1v1h-1zM578 273h1v1h-1zM586 273h1v1h-1zM594 273h1v1h-1zM602 273h1v1h-1zM610 273h1v1h-1zM618 273h1v1h-1zM626 273h1v1h-1zM634 273h1v1h-1zM642 273h1v1h-1zM666 273h1v1h-1zM674 273h1v1h-1zM682 273h1v1h-1zM690 273h1v1h-1zM698 273h1v1h-1zM714 273h1v1h-1zM746 273h1v1h-1zM778 273h1v1h-1zM786 273h1v1h-1zM794 273h1v1h-1zM802 273h1v1h-1zM810 273h1v1h-1zM1106 273h1v1h-1zM1114 273h1v1h-1zM1122 273h1v1h-1zM514 274h1v1h-1zM530 274h1v1h-1zM538 274h1v1h-1zM546 274h1v1h-1zM554 274h1v1h-1zM562 274h1v1h-1zM570 274h1v1h-1zM578 274h1v1h-1zM586 274h1v1h-1zM618 274h1v1h-1zM626 274h1v1h-1zM642 274h1v1h-1zM666 274h1v1h-1zM674 274h1v1h-1zM682 274h1v1h-1zM690 274h1v1h-1zM738 274h1v1h-1zM754 274h1v1h-1zM762 274h1v1h-1zM770 274h1v1h-1zM778 274h2v1h-2zM794 274h1v1h-1zM802 274h1v1h-1zM810 274h1v1h-1zM850 274h1v1h-1zM1130 274h1v1h-1zM1138 274h1v1h-1zM1146 274h1v1h-1zM511 275h1v1h-1zM522 275h1v1h-1zM562 275h1v1h-1zM570 275h1v1h-1zM578 275h1v1h-1zM618 275h1v1h-1zM666 275h1v1h-1zM674 275h1v1h-1zM682 275h1v1h-1zM722 275h1v1h-1zM730 275h1v1h-1zM738 275h1v1h-1zM754 275h1v1h-1zM762 275h1v1h-1zM770 275h1v1h-1zM778 275h1v1h-1zM780 275h1v1h-1zM850 275h1v1h-1zM853 275h1v1h-1zM1102 275h1v1h-1zM1130 275h1v1h-1zM1138 275h1v1h-1zM1146 275h1v1h-1zM511 276h1v1h-1zM522 276h1v1h-1zM650 276h1v1h-1zM658 276h1v1h-1zM706 276h1v1h-1zM722 276h1v1h-1zM730 276h1v1h-1zM738 276h1v1h-1zM754 276h1v1h-1zM762 276h1v1h-1zM770 276h1v1h-1zM777 276h1v1h-1zM818 276h1v1h-1zM826 276h1v1h-1zM834 276h1v1h-1zM842 276h1v1h-1zM850 276h1v1h-1zM853 276h1v1h-1zM1102 276h1v1h-1zM1130 276h1v1h-1zM1138 276h1v1h-1zM1146 276h1v1h-1zM511 277h1v1h-1zM522 277h1v1h-1zM594 277h1v1h-1zM602 277h1v1h-1zM610 277h1v1h-1zM634 277h1v1h-1zM650 277h1v1h-1zM658 277h1v1h-1zM698 277h1v1h-1zM706 277h1v1h-1zM714 277h1v1h-1zM722 277h1v1h-1zM730 277h1v1h-1zM746 277h1v1h-1zM777 277h1v1h-1zM784 277h3v1h-3zM818 277h1v1h-1zM826 277h1v1h-1zM834 277h1v1h-1zM842 277h1v1h-1zM853 277h1v1h-1zM1102 277h1v1h-1zM1106 277h1v1h-1zM1114 277h1v1h-1zM1122 277h1v1h-1zM514 278h1v1h-1zM530 278h1v1h-1zM538 278h1v1h-1zM546 278h1v1h-1zM554 278h1v1h-1zM586 278h1v1h-1zM594 278h1v1h-1zM602 278h1v1h-1zM610 278h1v1h-1zM626 278h1v1h-1zM634 278h1v1h-1zM642 278h1v1h-1zM650 278h1v1h-1zM658 278h1v1h-1zM690 278h1v1h-1zM698 278h1v1h-1zM706 278h1v1h-1zM714 278h1v1h-1zM746 278h1v1h-1zM786 278h1v1h-1zM790 278h1v1h-1zM794 278h1v1h-1zM802 278h1v1h-1zM810 278h1v1h-1zM818 278h1v1h-1zM826 278h1v1h-1zM834 278h1v1h-1zM842 278h1v1h-1zM1106 278h1v1h-1zM1114 278h1v1h-1zM1122 278h1v1h-1zM514 279h1v1h-1zM530 279h1v1h-1zM538 279h1v1h-1zM546 279h1v1h-1zM554 279h1v1h-1zM562 279h1v1h-1zM570 279h1v1h-1zM578 279h1v1h-1zM586 279h1v1h-1zM594 279h1v1h-1zM602 279h1v1h-1zM610 279h1v1h-1zM618 279h1v1h-1zM623 279h2v1h-2zM626 279h1v1h-1zM634 279h1v1h-1zM642 279h1v1h-1zM666 279h1v1h-1zM674 279h1v1h-1zM682 279h1v1h-1zM690 279h1v1h-1zM698 279h1v1h-1zM714 279h1v1h-1zM746 279h1v1h-1zM791 279h2v1h-2zM794 279h1v1h-1zM796 279h3v1h-3zM802 279h3v1h-3zM808 279h3v1h-3zM1106 279h1v1h-1zM1114 279h1v1h-1zM1122 279h1v1h-1zM514 280h1v1h-1zM530 280h1v1h-1zM538 280h1v1h-1zM546 280h1v1h-1zM554 280h1v1h-1zM562 280h1v1h-1zM570 280h1v1h-1zM578 280h1v1h-1zM586 280h1v1h-1zM618 280h1v1h-1zM622 280h1v1h-1zM628 280h1v1h-1zM642 280h1v1h-1zM666 280h1v1h-1zM674 280h1v1h-1zM682 280h1v1h-1zM690 280h1v1h-1zM738 280h1v1h-1zM754 280h1v1h-1zM762 280h1v1h-1zM770 280h1v1h-1zM850 280h1v1h-1zM1130 280h1v1h-1zM1138 280h1v1h-1zM1146 280h1v1h-1zM512 281h1v1h-1zM522 281h1v1h-1zM562 281h1v1h-1zM570 281h1v1h-1zM578 281h1v1h-1zM617 281h1v1h-1zM629 281h2v1h-2zM666 281h1v1h-1zM674 281h1v1h-1zM682 281h1v1h-1zM722 281h1v1h-1zM730 281h1v1h-1zM738 281h1v1h-1zM754 281h1v1h-1zM762 281h1v1h-1zM770 281h1v1h-1zM775 281h1v1h-1zM810 281h1v1h-1zM850 281h1v1h-1zM853 281h1v1h-1zM1101 281h1v1h-1zM1130 281h1v1h-1zM1138 281h1v1h-1zM1146 281h1v1h-1zM512 282h1v1h-1zM522 282h1v1h-1zM616 282h1v1h-1zM650 282h1v1h-1zM658 282h1v1h-1zM706 282h1v1h-1zM722 282h1v1h-1zM730 282h1v1h-1zM738 282h1v1h-1zM754 282h1v1h-1zM762 282h1v1h-1zM770 282h1v1h-1zM775 282h1v1h-1zM811 282h1v1h-1zM818 282h1v1h-1zM826 282h1v1h-1zM834 282h1v1h-1zM842 282h1v1h-1zM850 282h1v1h-1zM853 282h1v1h-1zM1101 282h1v1h-1zM1130 282h1v1h-1zM1138 282h1v1h-1zM1146 282h1v1h-1zM512 283h1v1h-1zM522 283h1v1h-1zM594 283h1v1h-1zM602 283h1v1h-1zM610 283h1v1h-1zM616 283h1v1h-1zM634 283h1v1h-1zM650 283h1v1h-1zM658 283h1v1h-1zM698 283h1v1h-1zM706 283h1v1h-1zM714 283h1v1h-1zM722 283h1v1h-1zM730 283h1v1h-1zM746 283h1v1h-1zM774 283h1v1h-1zM811 283h1v1h-1zM818 283h1v1h-1zM826 283h1v1h-1zM834 283h1v1h-1zM842 283h1v1h-1zM853 283h1v1h-1zM1101 283h1v1h-1zM1106 283h1v1h-1zM1114 283h1v1h-1zM1122 283h1v1h-1zM514 284h1v1h-1zM530 284h1v1h-1zM538 284h1v1h-1zM546 284h1v1h-1zM554 284h1v1h-1zM586 284h1v1h-1zM594 284h1v1h-1zM602 284h1v1h-1zM610 284h1v1h-1zM634 284h3v1h-3zM642 284h1v1h-1zM650 284h1v1h-1zM658 284h1v1h-1zM690 284h1v1h-1zM698 284h1v1h-1zM706 284h1v1h-1zM714 284h1v1h-1zM746 284h1v1h-1zM818 284h1v1h-1zM826 284h1v1h-1zM834 284h1v1h-1zM842 284h1v1h-1zM1106 284h1v1h-1zM1114 284h1v1h-1zM1122 284h1v1h-1zM514 285h1v1h-1zM530 285h1v1h-1zM538 285h1v1h-1zM546 285h1v1h-1zM554 285h1v1h-1zM562 285h1v1h-1zM570 285h1v1h-1zM578 285h1v1h-1zM586 285h1v1h-1zM594 285h1v1h-1zM602 285h1v1h-1zM610 285h1v1h-1zM640 285h3v1h-3zM666 285h1v1h-1zM674 285h1v1h-1zM682 285h1v1h-1zM690 285h1v1h-1zM698 285h1v1h-1zM714 285h1v1h-1zM746 285h1v1h-1zM1106 285h1v1h-1zM1114 285h1v1h-1zM1122 285h1v1h-1zM514 286h1v1h-1zM530 286h1v1h-1zM538 286h1v1h-1zM546 286h1v1h-1zM554 286h1v1h-1zM562 286h1v1h-1zM570 286h1v1h-1zM578 286h1v1h-1zM586 286h1v1h-1zM666 286h1v1h-1zM674 286h1v1h-1zM682 286h1v1h-1zM690 286h1v1h-1zM738 286h1v1h-1zM754 286h1v1h-1zM762 286h1v1h-1zM770 286h1v1h-1zM850 286h1v1h-1zM1130 286h1v1h-1zM1138 286h1v1h-1zM1146 286h1v1h-1zM513 287h1v1h-1zM522 287h1v1h-1zM562 287h1v1h-1zM570 287h1v1h-1zM578 287h1v1h-1zM612 287h1v1h-1zM642 287h1v1h-1zM666 287h1v1h-1zM674 287h1v1h-1zM682 287h1v1h-1zM722 287h1v1h-1zM730 287h1v1h-1zM738 287h1v1h-1zM754 287h1v1h-1zM762 287h1v1h-1zM770 287h1v1h-1zM773 287h1v1h-1zM812 287h1v1h-1zM850 287h1v1h-1zM854 287h1v1h-1zM1100 287h1v1h-1zM1130 287h1v1h-1zM1138 287h1v1h-1zM1146 287h1v1h-1zM513 288h1v1h-1zM522 288h1v1h-1zM612 288h1v1h-1zM643 288h1v1h-1zM650 288h1v1h-1zM658 288h1v1h-1zM706 288h1v1h-1zM722 288h1v1h-1zM730 288h1v1h-1zM738 288h1v1h-1zM754 288h1v1h-1zM762 288h1v1h-1zM770 288h1v1h-1zM772 288h1v1h-1zM812 288h1v1h-1zM818 288h1v1h-1zM826 288h1v1h-1zM834 288h1v1h-1zM842 288h1v1h-1zM850 288h1v1h-1zM854 288h1v1h-1zM1100 288h1v1h-1zM1130 288h1v1h-1zM1138 288h1v1h-1zM1146 288h1v1h-1zM514 289h1v1h-1zM522 289h1v1h-1zM594 289h1v1h-1zM602 289h1v1h-1zM610 289h2v1h-2zM643 289h1v1h-1zM650 289h1v1h-1zM658 289h1v1h-1zM698 289h1v1h-1zM706 289h1v1h-1zM714 289h1v1h-1zM722 289h1v1h-1zM730 289h1v1h-1zM746 289h1v1h-1zM772 289h1v1h-1zM812 289h1v1h-1zM818 289h1v1h-1zM826 289h1v1h-1zM834 289h1v1h-1zM842 289h1v1h-1zM854 289h1v1h-1zM1100 289h1v1h-1zM1106 289h1v1h-1zM1114 289h1v1h-1zM1122 289h1v1h-1zM514 290h1v1h-1zM530 290h1v1h-1zM538 290h1v1h-1zM546 290h1v1h-1zM554 290h1v1h-1zM586 290h1v1h-1zM594 290h1v1h-1zM602 290h1v1h-1zM610 290h1v1h-1zM650 290h1v1h-1zM658 290h1v1h-1zM690 290h1v1h-1zM698 290h1v1h-1zM706 290h1v1h-1zM714 290h1v1h-1zM746 290h1v1h-1zM818 290h1v1h-1zM826 290h1v1h-1zM834 290h1v1h-1zM842 290h1v1h-1zM1106 290h1v1h-1zM1114 290h1v1h-1zM1122 290h1v1h-1zM514 291h1v1h-1zM530 291h1v1h-1zM538 291h1v1h-1zM546 291h1v1h-1zM554 291h1v1h-1zM562 291h1v1h-1zM570 291h1v1h-1zM578 291h1v1h-1zM586 291h1v1h-1zM594 291h1v1h-1zM602 291h1v1h-1zM666 291h1v1h-1zM674 291h1v1h-1zM682 291h1v1h-1zM690 291h1v1h-1zM698 291h1v1h-1zM714 291h1v1h-1zM746 291h1v1h-1zM1106 291h1v1h-1zM1114 291h1v1h-1zM1122 291h1v1h-1zM530 292h1v1h-1zM538 292h1v1h-1zM546 292h1v1h-1zM554 292h1v1h-1zM562 292h1v1h-1zM570 292h1v1h-1zM578 292h1v1h-1zM586 292h1v1h-1zM666 292h1v1h-1zM674 292h1v1h-1zM682 292h1v1h-1zM690 292h1v1h-1zM738 292h1v1h-1zM754 292h1v1h-1zM762 292h1v1h-1zM770 292h1v1h-1zM850 292h1v1h-1zM1090 292h1v1h-1zM1108 292h3v1h-3zM1114 292h3v1h-3zM1120 292h3v1h-3zM1126 292h3v1h-3zM1130 292h1v1h-1zM1132 292h3v1h-3zM1138 292h3v1h-3zM1144 292h3v1h-3zM515 293h1v1h-1zM522 293h1v1h-1zM562 293h1v1h-1zM570 293h1v1h-1zM578 293h1v1h-1zM608 293h1v1h-1zM644 293h1v1h-1zM666 293h1v1h-1zM674 293h1v1h-1zM682 293h1v1h-1zM722 293h1v1h-1zM730 293h1v1h-1zM738 293h1v1h-1zM754 293h3v1h-3zM760 293h3v1h-3zM766 293h3v1h-3zM770 293h1v1h-1zM813 293h1v1h-1zM850 293h1v1h-1zM854 293h1v1h-1zM1090 293h2v1h-2zM1099 293h1v1h-1zM1106 293h1v1h-1zM516 294h1v1h-1zM522 294h1v1h-1zM607 294h1v1h-1zM644 294h1v1h-1zM650 294h1v1h-1zM658 294h1v1h-1zM706 294h1v1h-1zM722 294h1v1h-1zM730 294h1v1h-1zM738 294h1v1h-1zM753 294h1v1h-1zM814 294h1v1h-1zM818 294h1v1h-1zM826 294h1v1h-1zM834 294h1v1h-1zM842 294h1v1h-1zM850 294h1v1h-1zM854 294h1v1h-1zM1092 294h1v1h-1zM1099 294h1v1h-1zM1105 294h1v1h-1zM516 295h1v1h-1zM522 295h1v1h-1zM594 295h1v1h-1zM602 295h1v1h-1zM607 295h1v1h-1zM644 295h1v1h-1zM650 295h1v1h-1zM658 295h1v1h-1zM698 295h1v1h-1zM706 295h1v1h-1zM714 295h1v1h-1zM722 295h1v1h-1zM730 295h1v1h-1zM746 295h1v1h-1zM752 295h1v1h-1zM814 295h1v1h-1zM818 295h1v1h-1zM826 295h1v1h-1zM834 295h1v1h-1zM842 295h1v1h-1zM855 295h1v1h-1zM1093 295h1v1h-1zM1099 295h1v1h-1zM1105 295h1v1h-1zM530 296h1v1h-1zM538 296h1v1h-1zM546 296h1v1h-1zM554 296h1v1h-1zM586 296h1v1h-1zM594 296h1v1h-1zM602 296h1v1h-1zM650 296h1v1h-1zM658 296h1v1h-1zM690 296h1v1h-1zM698 296h1v1h-1zM706 296h1v1h-1zM714 296h1v1h-1zM746 296h1v1h-1zM818 296h1v1h-1zM826 296h1v1h-1zM834 296h1v1h-1zM842 296h1v1h-1zM1086 296h1v1h-1zM530 297h1v1h-1zM538 297h1v1h-1zM546 297h1v1h-1zM554 297h1v1h-1zM562 297h1v1h-1zM570 297h1v1h-1zM578 297h1v1h-1zM586 297h1v1h-1zM594 297h1v1h-1zM602 297h1v1h-1zM666 297h1v1h-1zM674 297h1v1h-1zM682 297h1v1h-1zM690 297h1v1h-1zM698 297h1v1h-1zM714 297h1v1h-1zM746 297h1v1h-1zM1085 297h1v1h-1zM1090 297h1v1h-1zM530 298h1v1h-1zM538 298h1v1h-1zM546 298h1v1h-1zM554 298h1v1h-1zM562 298h1v1h-1zM570 298h1v1h-1zM578 298h1v1h-1zM586 298h1v1h-1zM666 298h1v1h-1zM674 298h1v1h-1zM682 298h1v1h-1zM690 298h1v1h-1zM738 298h1v1h-1zM850 298h1v1h-1zM1084 298h1v1h-1zM1090 298h1v1h-1zM518 299h1v1h-1zM522 299h1v1h-1zM562 299h1v1h-1zM570 299h1v1h-1zM578 299h1v1h-1zM604 299h1v1h-1zM645 299h1v1h-1zM666 299h1v1h-1zM674 299h1v1h-1zM682 299h1v1h-1zM722 299h1v1h-1zM730 299h1v1h-1zM738 299h1v1h-1zM749 299h1v1h-1zM815 299h1v1h-1zM850 299h1v1h-1zM855 299h1v1h-1zM1090 299h1v1h-1zM1096 299h1v1h-1zM1098 299h1v1h-1zM1103 299h1v1h-1zM519 300h1v1h-1zM522 300h1v1h-1zM603 300h1v1h-1zM645 300h1v1h-1zM650 300h1v1h-1zM658 300h1v1h-1zM706 300h1v1h-1zM722 300h1v1h-1zM730 300h1v1h-1zM738 300h1v1h-1zM748 300h1v1h-1zM815 300h1v1h-1zM818 300h1v1h-1zM826 300h1v1h-1zM834 300h1v1h-1zM842 300h1v1h-1zM850 300h1v1h-1zM855 300h1v1h-1zM1082 300h1v1h-1zM1097 300h2v1h-2zM1103 300h1v1h-1zM519 301h1v1h-1zM522 301h1v1h-1zM594 301h1v1h-1zM602 301h2v1h-2zM645 301h1v1h-1zM650 301h1v1h-1zM658 301h1v1h-1zM698 301h1v1h-1zM706 301h1v1h-1zM714 301h1v1h-1zM722 301h1v1h-1zM730 301h1v1h-1zM746 301h2v1h-2zM815 301h1v1h-1zM818 301h1v1h-1zM826 301h1v1h-1zM834 301h1v1h-1zM842 301h1v1h-1zM855 301h1v1h-1zM1082 301h1v1h-1zM1098 301h1v1h-1zM1103 301h1v1h-1zM530 302h1v1h-1zM538 302h1v1h-1zM546 302h1v1h-1zM554 302h1v1h-1zM586 302h1v1h-1zM592 302h3v1h-3zM598 302h3v1h-3zM602 302h1v1h-1zM650 302h1v1h-1zM658 302h1v1h-1zM690 302h1v1h-1zM698 302h1v1h-1zM706 302h1v1h-1zM714 302h1v1h-1zM746 302h1v1h-1zM818 302h1v1h-1zM826 302h1v1h-1zM834 302h1v1h-1zM842 302h1v1h-1zM1080 302h1v1h-1zM1098 302h1v1h-1zM530 303h1v1h-1zM538 303h1v1h-1zM546 303h1v1h-1zM554 303h1v1h-1zM562 303h1v1h-1zM570 303h1v1h-1zM578 303h1v1h-1zM586 303h3v1h-3zM666 303h1v1h-1zM674 303h1v1h-1zM682 303h1v1h-1zM690 303h1v1h-1zM698 303h1v1h-1zM714 303h1v1h-1zM1079 303h1v1h-1zM1090 303h1v1h-1zM530 304h1v1h-1zM538 304h1v1h-1zM546 304h1v1h-1zM554 304h1v1h-1zM562 304h1v1h-1zM570 304h1v1h-1zM578 304h1v1h-1zM666 304h1v1h-1zM674 304h1v1h-1zM682 304h1v1h-1zM690 304h1v1h-1zM738 304h1v1h-1zM850 304h1v1h-1zM1078 304h1v1h-1zM1090 304h1v1h-1zM521 305h2v1h-2zM562 305h1v1h-1zM570 305h1v1h-1zM578 305h1v1h-1zM646 305h1v1h-1zM666 305h1v1h-1zM674 305h1v1h-1zM682 305h1v1h-1zM722 305h1v1h-1zM730 305h1v1h-1zM738 305h1v1h-1zM743 305h1v1h-1zM816 305h1v1h-1zM850 305h1v1h-1zM856 305h1v1h-1zM1082 305h1v1h-1zM1090 305h1v1h-1zM1101 305h1v1h-1zM522 306h1v1h-1zM646 306h1v1h-1zM650 306h1v1h-1zM658 306h1v1h-1zM706 306h1v1h-1zM722 306h1v1h-1zM730 306h1v1h-1zM738 306h1v1h-1zM742 306h1v1h-1zM816 306h1v1h-1zM818 306h1v1h-1zM826 306h1v1h-1zM834 306h1v1h-1zM842 306h1v1h-1zM850 306h1v1h-1zM856 306h1v1h-1zM1082 306h1v1h-1zM1098 306h1v1h-1zM1101 306h1v1h-1zM523 307h1v1h-1zM581 307h2v1h-2zM646 307h1v1h-1zM650 307h1v1h-1zM658 307h1v1h-1zM698 307h1v1h-1zM706 307h1v1h-1zM714 307h1v1h-1zM722 307h1v1h-1zM730 307h1v1h-1zM742 307h1v1h-1zM817 307h2v1h-2zM826 307h1v1h-1zM834 307h1v1h-1zM842 307h1v1h-1zM856 307h1v1h-1zM1042 307h3v1h-3zM1048 307h3v1h-3zM1054 307h3v1h-3zM1058 307h1v1h-1zM1060 307h3v1h-3zM1066 307h3v1h-3zM1072 307h3v1h-3zM1082 307h1v1h-1zM1098 307h1v1h-1zM1100 307h1v1h-1zM530 308h1v1h-1zM538 308h1v1h-1zM546 308h1v1h-1zM554 308h1v1h-1zM580 308h1v1h-1zM650 308h1v1h-1zM658 308h1v1h-1zM690 308h1v1h-1zM698 308h1v1h-1zM706 308h1v1h-1zM714 308h1v1h-1zM818 308h1v1h-1zM826 308h1v1h-1zM834 308h1v1h-1zM842 308h1v1h-1zM1034 308h1v1h-1zM1036 308h3v1h-3zM1042 308h1v1h-1zM1050 308h1v1h-1zM1058 308h1v1h-1zM1066 308h1v1h-1zM1074 308h1v1h-1zM1098 308h1v1h-1zM530 309h1v1h-1zM538 309h1v1h-1zM546 309h1v1h-1zM554 309h1v1h-1zM562 309h1v1h-1zM570 309h1v1h-1zM578 309h1v1h-1zM666 309h1v1h-1zM674 309h1v1h-1zM682 309h1v1h-1zM690 309h1v1h-1zM698 309h1v1h-1zM714 309h1v1h-1zM1031 309h2v1h-2zM1034 309h1v1h-1zM1090 309h1v1h-1zM530 310h1v1h-1zM538 310h1v1h-1zM546 310h1v1h-1zM554 310h1v1h-1zM562 310h1v1h-1zM570 310h1v1h-1zM578 310h1v1h-1zM666 310h1v1h-1zM674 310h1v1h-1zM682 310h1v1h-1zM690 310h1v1h-1zM738 310h1v1h-1zM850 310h1v1h-1zM1030 310h1v1h-1zM1090 310h1v1h-1zM526 311h1v1h-1zM562 311h1v1h-1zM570 311h1v1h-1zM647 311h1v1h-1zM666 311h1v1h-1zM674 311h1v1h-1zM682 311h1v1h-1zM722 311h1v1h-1zM730 311h1v1h-1zM736 311h3v1h-3zM818 311h1v1h-1zM850 311h1v1h-1zM856 311h1v1h-1zM1026 311h1v1h-1zM1082 311h1v1h-1zM1090 311h1v1h-1zM1099 311h1v1h-1zM527 312h1v1h-1zM575 312h2v1h-2zM647 312h1v1h-1zM650 312h1v1h-1zM658 312h1v1h-1zM706 312h1v1h-1zM722 312h1v1h-1zM724 312h3v1h-3zM730 312h3v1h-3zM818 312h1v1h-1zM826 312h1v1h-1zM834 312h1v1h-1zM842 312h1v1h-1zM850 312h1v1h-1zM856 312h1v1h-1zM1026 312h1v1h-1zM1042 312h1v1h-1zM1050 312h1v1h-1zM1058 312h1v1h-1zM1066 312h1v1h-1zM1074 312h1v1h-1zM1082 312h1v1h-1zM1098 312h1v1h-1zM528 313h1v1h-1zM574 313h1v1h-1zM648 313h1v1h-1zM650 313h1v1h-1zM658 313h1v1h-1zM698 313h1v1h-1zM706 313h1v1h-1zM714 313h1v1h-1zM721 313h1v1h-1zM818 313h1v1h-1zM820 313h3v1h-3zM826 313h3v1h-3zM832 313h3v1h-3zM838 313h3v1h-3zM842 313h1v1h-1zM856 313h1v1h-1zM946 313h3v1h-3zM952 313h3v1h-3zM958 313h3v1h-3zM964 313h3v1h-3zM970 313h3v1h-3zM976 313h3v1h-3zM982 313h3v1h-3zM988 313h3v1h-3zM994 313h3v1h-3zM1000 313h3v1h-3zM1006 313h3v1h-3zM1012 313h3v1h-3zM1018 313h3v1h-3zM1024 313h3v1h-3zM1030 313h3v1h-3zM1034 313h1v1h-1zM1036 313h3v1h-3zM1042 313h3v1h-3zM1048 313h3v1h-3zM1054 313h3v1h-3zM1058 313h1v1h-1zM1060 313h3v1h-3zM1066 313h3v1h-3zM1072 313h3v1h-3zM1078 313h3v1h-3zM1082 313h1v1h-1zM1084 313h3v1h-3zM1090 313h3v1h-3zM1096 313h3v1h-3zM530 314h1v1h-1zM538 314h1v1h-1zM546 314h1v1h-1zM554 314h1v1h-1zM650 314h1v1h-1zM658 314h1v1h-1zM690 314h1v1h-1zM698 314h1v1h-1zM706 314h1v1h-1zM714 314h1v1h-1zM938 314h1v1h-1zM940 314h3v1h-3zM946 314h1v1h-1zM954 314h1v1h-1zM962 314h1v1h-1zM970 314h1v1h-1zM978 314h1v1h-1zM1002 314h1v1h-1zM1010 314h1v1h-1zM530 315h1v1h-1zM532 315h3v1h-3zM538 315h3v1h-3zM544 315h3v1h-3zM554 315h1v1h-1zM562 315h1v1h-1zM570 315h1v1h-1zM666 315h1v1h-1zM674 315h1v1h-1zM682 315h1v1h-1zM690 315h1v1h-1zM698 315h1v1h-1zM714 315h1v1h-1zM934 315h3v1h-3zM938 315h1v1h-1zM946 315h1v1h-1zM954 315h1v1h-1zM962 315h1v1h-1zM970 315h1v1h-1zM978 315h1v1h-1zM986 315h1v1h-1zM994 315h1v1h-1zM1002 315h1v1h-1zM1010 315h1v1h-1zM554 316h1v1h-1zM562 316h1v1h-1zM570 316h1v1h-1zM666 316h1v1h-1zM674 316h1v1h-1zM682 316h1v1h-1zM690 316h1v1h-1zM850 316h1v1h-1zM930 316h1v1h-1zM938 316h1v1h-1zM946 316h1v1h-1zM954 316h1v1h-1zM962 316h1v1h-1zM970 316h1v1h-1zM978 316h1v1h-1zM986 316h1v1h-1zM994 316h1v1h-1zM1002 316h1v1h-1zM1010 316h1v1h-1zM1018 316h1v1h-1zM547 317h1v1h-1zM562 317h1v1h-1zM569 317h1v1h-1zM648 317h1v1h-1zM666 317h1v1h-1zM674 317h1v1h-1zM682 317h1v1h-1zM719 317h1v1h-1zM843 317h1v1h-1zM850 317h1v1h-1zM857 317h1v1h-1zM928 317h3v1h-3zM986 317h1v1h-1zM994 317h1v1h-1zM1018 317h1v1h-1zM1023 317h1v1h-1zM548 318h1v1h-1zM568 318h1v1h-1zM649 318h2v1h-2zM658 318h1v1h-1zM706 318h1v1h-1zM719 318h1v1h-1zM843 318h1v1h-1zM850 318h1v1h-1zM857 318h1v1h-1zM1018 318h1v1h-1zM1023 318h1v1h-1zM549 319h1v1h-1zM649 319h2v1h-2zM658 319h1v1h-1zM698 319h1v1h-1zM706 319h1v1h-1zM714 319h1v1h-1zM718 319h1v1h-1zM843 319h1v1h-1zM857 319h1v1h-1zM1022 319h1v1h-1zM554 320h1v1h-1zM650 320h1v1h-1zM658 320h1v1h-1zM690 320h1v1h-1zM698 320h1v1h-1zM706 320h1v1h-1zM714 320h1v1h-1zM923 320h2v1h-2zM938 320h1v1h-1zM946 320h1v1h-1zM954 320h1v1h-1zM962 320h1v1h-1zM970 320h1v1h-1zM978 320h1v1h-1zM1002 320h1v1h-1zM1010 320h1v1h-1zM554 321h1v1h-1zM562 321h3v1h-3zM666 321h1v1h-1zM674 321h1v1h-1zM682 321h1v1h-1zM690 321h1v1h-1zM698 321h1v1h-1zM714 321h1v1h-1zM922 321h1v1h-1zM930 321h1v1h-1zM938 321h1v1h-1zM946 321h1v1h-1zM954 321h1v1h-1zM962 321h1v1h-1zM970 321h1v1h-1zM978 321h1v1h-1zM986 321h1v1h-1zM994 321h1v1h-1zM1002 321h1v1h-1zM1010 321h1v1h-1zM554 322h1v1h-1zM562 322h1v1h-1zM666 322h1v1h-1zM674 322h1v1h-1zM682 322h1v1h-1zM690 322h1v1h-1zM850 322h1v1h-1zM917 322h2v1h-2zM930 322h1v1h-1zM938 322h1v1h-1zM946 322h1v1h-1zM954 322h1v1h-1zM962 322h1v1h-1zM970 322h1v1h-1zM978 322h1v1h-1zM986 322h1v1h-1zM994 322h1v1h-1zM1002 322h1v1h-1zM1010 322h1v1h-1zM1018 322h1v1h-1zM551 323h1v1h-1zM650 323h1v1h-1zM666 323h1v1h-1zM674 323h1v1h-1zM682 323h1v1h-1zM716 323h1v1h-1zM844 323h1v1h-1zM850 323h1v1h-1zM857 323h1v1h-1zM914 323h1v1h-1zM916 323h1v1h-1zM922 323h1v1h-1zM930 323h1v1h-1zM986 323h1v1h-1zM994 323h1v1h-1zM1018 323h1v1h-1zM1021 323h1v1h-1zM552 324h1v1h-1zM650 324h1v1h-1zM658 324h1v1h-1zM706 324h1v1h-1zM715 324h1v1h-1zM845 324h1v1h-1zM850 324h1v1h-1zM857 324h1v1h-1zM914 324h1v1h-1zM922 324h1v1h-1zM1018 324h1v1h-1zM1020 324h1v1h-1zM553 325h1v1h-1zM557 325h2v1h-2zM650 325h1v1h-1zM658 325h1v1h-1zM698 325h1v1h-1zM706 325h1v1h-1zM714 325h2v1h-2zM845 325h1v1h-1zM858 325h1v1h-1zM911 325h2v1h-2zM914 325h1v1h-1zM922 325h1v1h-1zM1020 325h1v1h-1zM554 326h1v1h-1zM556 326h1v1h-1zM658 326h1v1h-1zM690 326h1v1h-1zM698 326h1v1h-1zM706 326h1v1h-1zM714 326h1v1h-1zM910 326h1v1h-1zM938 326h1v1h-1zM946 326h1v1h-1zM954 326h1v1h-1zM962 326h1v1h-1zM970 326h1v1h-1zM978 326h1v1h-1zM1002 326h1v1h-1zM1010 326h1v1h-1zM554 327h1v1h-1zM666 327h1v1h-1zM674 327h1v1h-1zM682 327h1v1h-1zM690 327h1v1h-1zM698 327h1v1h-1zM930 327h1v1h-1zM938 327h1v1h-1zM946 327h1v1h-1zM954 327h1v1h-1zM962 327h1v1h-1zM970 327h1v1h-1zM978 327h1v1h-1zM986 327h1v1h-1zM994 327h1v1h-1zM1002 327h1v1h-1zM1010 327h1v1h-1zM666 328h1v1h-1zM674 328h1v1h-1zM682 328h1v1h-1zM690 328h1v1h-1zM850 328h1v1h-1zM930 328h1v1h-1zM938 328h1v1h-1zM946 328h1v1h-1zM954 328h1v1h-1zM962 328h1v1h-1zM970 328h1v1h-1zM978 328h1v1h-1zM986 328h1v1h-1zM994 328h1v1h-1zM1002 328h1v1h-1zM1010 328h1v1h-1zM1018 328h1v1h-1zM652 329h1v1h-1zM666 329h1v1h-1zM674 329h1v1h-1zM682 329h1v1h-1zM712 329h1v1h-1zM846 329h1v1h-1zM850 329h1v1h-1zM858 329h1v1h-1zM862 329h3v1h-3zM866 329h1v1h-1zM868 329h3v1h-3zM874 329h3v1h-3zM880 329h3v1h-3zM886 329h3v1h-3zM892 329h3v1h-3zM898 329h3v1h-3zM904 329h3v1h-3zM914 329h1v1h-1zM922 329h1v1h-1zM930 329h1v1h-1zM986 329h1v1h-1zM994 329h1v1h-1zM1018 329h1v1h-1zM652 330h1v1h-1zM658 330h1v1h-1zM706 330h1v1h-1zM711 330h1v1h-1zM846 330h1v1h-1zM850 330h1v1h-1zM858 330h1v1h-1zM866 330h1v1h-1zM874 330h1v1h-1zM882 330h1v1h-1zM898 330h1v1h-1zM906 330h1v1h-1zM914 330h1v1h-1zM922 330h1v1h-1zM1017 330h1v1h-1zM653 331h1v1h-1zM658 331h1v1h-1zM698 331h1v1h-1zM706 331h1v1h-1zM710 331h1v1h-1zM846 331h1v1h-1zM858 331h1v1h-1zM866 331h1v1h-1zM874 331h1v1h-1zM882 331h1v1h-1zM898 331h1v1h-1zM906 331h1v1h-1zM914 331h1v1h-1zM922 331h1v1h-1zM1017 331h1v1h-1zM658 332h1v1h-1zM690 332h1v1h-1zM698 332h1v1h-1zM706 332h1v1h-1zM890 332h1v1h-1zM898 332h1v1h-1zM938 332h1v1h-1zM946 332h1v1h-1zM954 332h1v1h-1zM962 332h1v1h-1zM970 332h1v1h-1zM978 332h1v1h-1zM1002 332h1v1h-1zM1010 332h1v1h-1zM666 333h1v1h-1zM674 333h1v1h-1zM682 333h1v1h-1zM690 333h1v1h-1zM698 333h1v1h-1zM890 333h1v1h-1zM930 333h1v1h-1zM938 333h1v1h-1zM946 333h3v1h-3zM952 333h3v1h-3zM958 333h3v1h-3zM962 333h1v1h-1zM964 333h3v1h-3zM970 333h3v1h-3zM976 333h3v1h-3zM986 333h1v1h-1zM994 333h1v1h-1zM1002 333h1v1h-1zM1010 333h1v1h-1zM666 334h1v1h-1zM674 334h1v1h-1zM682 334h1v1h-1zM690 334h1v1h-1zM850 334h1v1h-1zM890 334h1v1h-1zM930 334h1v1h-1zM938 334h1v1h-1zM986 334h1v1h-1zM994 334h1v1h-1zM1002 334h1v1h-1zM1010 334h1v1h-1zM654 335h1v1h-1zM666 335h1v1h-1zM674 335h1v1h-1zM682 335h1v1h-1zM707 335h1v1h-1zM847 335h1v1h-1zM850 335h1v1h-1zM858 335h1v1h-1zM866 335h1v1h-1zM874 335h1v1h-1zM882 335h1v1h-1zM906 335h1v1h-1zM914 335h1v1h-1zM922 335h1v1h-1zM930 335h1v1h-1zM979 335h1v1h-1zM986 335h1v1h-1zM994 335h1v1h-1zM1015 335h1v1h-1zM655 336h1v1h-1zM658 336h1v1h-1zM706 336h2v1h-2zM847 336h1v1h-1zM850 336h1v1h-1zM858 336h1v1h-1zM866 336h1v1h-1zM874 336h1v1h-1zM882 336h1v1h-1zM898 336h1v1h-1zM906 336h1v1h-1zM914 336h1v1h-1zM922 336h1v1h-1zM942 336h1v1h-1zM979 336h1v1h-1zM1014 336h1v1h-1zM655 337h1v1h-1zM658 337h1v1h-1zM698 337h1v1h-1zM706 337h1v1h-1zM848 337h1v1h-1zM858 337h1v1h-1zM866 337h1v1h-1zM874 337h1v1h-1zM882 337h1v1h-1zM898 337h1v1h-1zM906 337h1v1h-1zM914 337h1v1h-1zM922 337h1v1h-1zM941 337h1v1h-1zM979 337h1v1h-1zM1014 337h1v1h-1zM658 338h1v1h-1zM690 338h1v1h-1zM698 338h1v1h-1zM890 338h1v1h-1zM898 338h1v1h-1zM938 338h1v1h-1zM940 338h1v1h-1zM1002 338h1v1h-1zM1010 338h1v1h-1zM666 339h1v1h-1zM674 339h1v1h-1zM682 339h1v1h-1zM690 339h1v1h-1zM698 339h1v1h-1zM890 339h1v1h-1zM930 339h1v1h-1zM938 339h1v1h-1zM986 339h1v1h-1zM994 339h1v1h-1zM1002 339h1v1h-1zM1010 339h1v1h-1zM666 340h1v1h-1zM674 340h1v1h-1zM682 340h1v1h-1zM690 340h1v1h-1zM850 340h1v1h-1zM890 340h1v1h-1zM930 340h1v1h-1zM986 340h1v1h-1zM994 340h1v1h-1zM1002 340h1v1h-1zM1010 340h1v1h-1zM657 341h1v1h-1zM666 341h1v1h-1zM674 341h1v1h-1zM682 341h1v1h-1zM701 341h2v1h-2zM849 341h2v1h-2zM858 341h1v1h-1zM866 341h1v1h-1zM874 341h1v1h-1zM882 341h1v1h-1zM906 341h1v1h-1zM914 341h1v1h-1zM922 341h1v1h-1zM930 341h1v1h-1zM936 341h1v1h-1zM981 341h1v1h-1zM986 341h1v1h-1zM994 341h1v1h-1zM1012 341h1v1h-1zM658 342h1v1h-1zM700 342h1v1h-1zM849 342h2v1h-2zM858 342h1v1h-1zM866 342h1v1h-1zM874 342h1v1h-1zM882 342h1v1h-1zM898 342h1v1h-1zM906 342h1v1h-1zM914 342h1v1h-1zM922 342h1v1h-1zM935 342h1v1h-1zM981 342h1v1h-1zM1011 342h1v1h-1zM658 343h2v1h-2zM698 343h1v1h-1zM849 343h1v1h-1zM858 343h1v1h-1zM866 343h1v1h-1zM874 343h1v1h-1zM882 343h1v1h-1zM898 343h1v1h-1zM906 343h1v1h-1zM914 343h1v1h-1zM922 343h1v1h-1zM934 343h1v1h-1zM981 343h1v1h-1zM1011 343h1v1h-1zM660 344h1v1h-1zM690 344h1v1h-1zM695 344h2v1h-2zM698 344h1v1h-1zM890 344h1v1h-1zM898 344h1v1h-1zM1002 344h1v1h-1zM1010 344h1v1h-1zM664 345h1v1h-1zM666 345h1v1h-1zM674 345h1v1h-1zM682 345h1v1h-1zM688 345h3v1h-3zM694 345h1v1h-1zM890 345h1v1h-1zM930 345h1v1h-1zM986 345h1v1h-1zM994 345h1v1h-1zM1002 345h1v1h-1zM1006 345h3v1h-3zM1010 345h1v1h-1zM665 346h2v1h-2zM670 346h3v1h-3zM674 346h1v1h-1zM676 346h3v1h-3zM682 346h3v1h-3zM850 346h1v1h-1zM890 346h1v1h-1zM929 346h2v1h-2zM986 346h1v1h-1zM994 346h1v1h-1zM850 347h3v1h-3zM858 347h1v1h-1zM866 347h1v1h-1zM874 347h1v1h-1zM882 347h1v1h-1zM906 347h1v1h-1zM914 347h1v1h-1zM922 347h1v1h-1zM928 347h1v1h-1zM982 347h1v1h-1zM986 347h1v1h-1zM994 347h1v1h-1zM1001 347h1v1h-1zM856 348h3v1h-3zM862 348h3v1h-3zM866 348h1v1h-1zM868 348h3v1h-3zM874 348h3v1h-3zM880 348h3v1h-3zM898 348h1v1h-1zM904 348h3v1h-3zM910 348h3v1h-3zM914 348h1v1h-1zM916 348h3v1h-3zM922 348h3v1h-3zM983 348h1v1h-1zM1000 348h1v1h-1zM886 349h1v1h-1zM898 349h3v1h-3zM983 349h1v1h-1zM1000 349h1v1h-1zM887 350h2v1h-2zM890 350h1v1h-1zM893 350h2v1h-2zM890 351h1v1h-1zM892 351h1v1h-1zM986 351h1v1h-1zM994 351h1v1h-1zM986 352h1v1h-1zM994 352h1v1h-1zM984 353h1v1h-1zM986 353h1v1h-1zM994 353h1v1h-1zM997 353h1v1h-1zM985 354h1v1h-1zM996 354h1v1h-1zM985 355h1v1h-1zM996 355h1v1h-1zM986 357h1v1h-1zM994 357h1v1h-1zM986 358h1v1h-1zM988 358h3v1h-3zM994 358h1v1h-1z"/>
<path fill="#C0C0C0" d="M2 522h3v1h-3zM8 522h3v1h-3zM14 522h3v1h-3zM20 522h3v1h-3zM26 522h3v1h-3zM32 522h3v1h-3zM38 522h3v1h-3zM44 522h3v1h-3zM50 522h3v1h-3zM56 522h3v1h-3zM62 522h3v1h-3zM68 522h3v1h-3zM74 522h3v1h-3zM80 522h3v1h-3zM86 522h3v1h-3zM92 522h3v1h-3zM98 522h3v1h-3zM104 522h3v1h-3zM110 522h3v1h-3zM116 522h3v1h-3zM122 522h3v1h-3zM128 522h3v1h-3zM134 522h3v1h-3zM140 522h3v1h-3zM146 522h3v1h-3zM152 522h3v1h-3zM158 522h3v1h-3zM164 522h3v1h-3zM170 522h3v1h-3zM176 522h3v1h-3zM182 522h3v1h-3zM188 522h3v1h-3zM194 522h3v1h-3zM200 522h3v1h-3zM206 522h3v1h-3zM212 522h3v1h-3zM218 522h3v1h-3zM224 522h3v1h-3zM230 522h3v1h-3zM236 522h3v1h-3zM242 522h3v1h-3zM248 522h3v1h-3zM254 522h3v1h-3zM260 522h3v1h-3zM266 522h3v1h-3zM272 522h3v1h-3zM278 522h3v1h-3zM284 522h3v1h-3zM290 522h3v1h-3zM296 522h3v1h-3zM302 522h3v1h-3zM308 522h3v1h-3zM314 522h3v1h-3zM320 522h3v1h-3zM326 522h3v1h-3zM332 522h3v1h-3zM338 522h3v1h-3zM344 522h3v1h-3zM350 522h3v1h-3zM356 522h3v1h-3zM362 522h3v1h-3zM368 522h3v1h-3zM374 522h3v1h-3zM380 522h3v1h-3zM386 522h3v1h-3zM392 522h3v1h-3zM398 522h3v1h-3zM404 522h3v1h-3zM410 522h3v1h-3zM416 522h3v1h-3zM422 522h3v1h-3zM428 522h3v1h-3zM434 522h3v1h-3zM440 522h3v1h-3zM446 522h3v1h-3zM452 522h3v1h-3zM458 522h3v1h-3zM464 522h3v1h-3zM470 522h3v1h-3zM476 522h3v1h-3zM482 522h3v1h-3zM488 522h3v1h-3zM494 522h3v1h-3zM500 522h3v1h-3zM506 522h3v1h-3zM512 522h3v1h-3zM518 522h3v1h-3zM524 522h3v1h-3zM530 522h3v1h-3zM536 522h3v1h-3zM542 522h3v1h-3zM548 522h3v1h-3zM554 522h3v1h-3zM560 522h3v1h-3zM566 522h3v1h-3zM572 522h3v1h-3zM578 522h3v1h-3zM584 522h3v1h-3zM590 522h3v1h-3zM596 522h3v1h-3zM602 522h3v1h-3zM608 522h3v1h-3zM614 522h3v1h-3zM620 522h3v1h-3zM626 522h3v1h-3zM632 522h3v1h-3zM638 522h3v1h-3zM644 522h3v1h-3zM650 522h3v1h-3zM656 522h3v1h-3zM662 522h3v1h-3zM668 522h3v1h-3zM674 522h3v1h-3zM680 522h3v1h-3zM686 522h3v1h-3zM692 522h3v1h-3zM698 522h3v1h-3zM704 522h3v1h-3zM710 522h3v1h-3zM716 522h3v1h-3zM722 522h3v1h-3zM728 522h3v1h-3zM734 522h3v1h-3zM740 522h3v1h-3zM746 522h3v1h-3zM752 522h3v1h-3zM758 522h3v1h-3zM764 522h3v1h-3zM770 522h3v1h-3zM776 522h3v1h-3zM782 522h3v1h-3zM788 522h3v1h-3zM794 522h3v1h-3zM800 522h3v1h-3zM806 522h3v1h-3zM812 522h3v1h-3zM818 522h3v1h-3zM824 522h3v1h-3zM830 522h3v1h-3zM836 522h3v1h-3zM842 522h3v1h-3zM848 522h3v1h-3zM854 522h3v1h-3zM860 522h3v1h-3zM866 522h3v1h-3zM872 522h3v1h-3zM878 522h3v1h-3zM884 522h3v1h-3zM890 522h3v1h-3zM896 522h3v1h-3zM902 522h3v1h-3zM908 522h3v1h-3zM914 522h3v1h-3zM920 522h3v1h-3zM926 522h3v1h-3zM932 522h3v1h-3zM938 522h3v1h-3zM944 522h3v1h-3zM950 522h3v1h-3zM956 522h3v1h-3zM962 522h3v1h-3zM968 522h3v1h-3zM974 522h3v1h-3zM980 522h3v1h-3zM986 522h3v1h-3zM992 522h3v1h-3zM998 522h3v1h-3zM1004 522h3v1h-3zM1010 522h3v1h-3zM1016 522h3v1h-3zM1022 522h3v1h-3zM1028 522h3v1h-3zM1034 522h3v1h-3zM1040 522h3v1h-3zM1046 522h3v1h-3zM1052 522h3v1h-3zM1058 522h3v1h-3zM1064 522h3v1h-3zM1070 522h3v1h-3zM1076 522h3v1h-3zM1082 522h3v1h-3zM1088 522h3v1h-3zM1094 522h3v1h-3zM1100 522h3v1h-3zM1106 522h3v1h-3zM1112 522h3v1h-3zM1118 522h3v1h-3zM1124 522h3v1h-3zM1130 522h3v1h-3zM1136 522h3v1h-3zM1142 522h3v1h-3z"/>
<path fill="#C0C0C0" d="M2 541h3v1h-3zM8 541h3v1h-3zM14 541h3v1h-3zM20 541h3v1h-3zM26 541h3v1h-3zM32 541h3v1h-3zM38 541h3v1h-3zM44 541h3v1h-3zM50 541h3v1h-3zM56 541h3v1h-3zM62 541h3v1h-3zM68 541h3v1h-3zM74 541h3v1h-3zM80 541h3v1h-3zM86 541h3v1h-3zM92 541h3v1h-3zM98 541h3v1h-3zM104 541h3v1h-3zM110 541h3v1h-3zM116 541h3v1h-3zM122 541h3v1h-3zM128 541h3v1h-3zM134 541h3v1h-3zM140 541h3v1h-3zM146 541h3v1h-3zM152 541h3v1h-3zM158 541h3v1h-3zM164 541h3v1h-3zM170 541h3v1h-3zM176 541h3v1h-3zM182 541h3v1h-3zM188 541h3v1h-3zM194 541h3v1h-3zM200 541h3v1h-3zM206 541h3v1h-3zM212 541h3v1h-3zM218 541h3v1h-3zM224 541h3v1h-3zM230 541h3v1h-3zM236 541h3v1h-3zM242 541h3v1h-3zM248 541h3v1h-3zM254 541h3v1h-3zM260 541h3v1h-3zM266 541h3v1h-3zM272 541h3v1h-3zM278 541h3v1h-3zM284 541h3v1h-3zM290 541h3v1h-3zM296 541h3v1h-3zM302 541h3v1h-3zM308 541h3v1h-3zM314 541h3v1h-3zM320 541h3v1h-3zM326 541h3v1h-3zM332 541h3v1h-3zM338 541h3v1h-3zM344 541h3v1h-3zM350 541h3v1h-3zM356 541h3v1h-3zM362 541h3v1h-3zM368 541h3v1h-3zM374 541h3v1h-3zM380 541h3v1h-3zM386 541h3v1h-3zM392 541h3v1h-3zM398 541h3v1h-3zM404 541h3v1h-3zM410 541h3v1h-3zM416 541h3v1h-3zM422 541h3v1h-3zM428 541h3v1h-3zM434 541h3v1h-3zM440 541h3v1h-3zM446 541h3v1h-3zM452 541h3v1h-3zM458 541h3v1h-3zM464 541h3v1h-3zM470 541h3v1h-3zM476 541h3v1h-3zM482 541h3v1h-3zM488 541h3v1h-3zM494 541h3v1h-3zM500 541h3v1h-3zM506 541h3v1h-3zM512 541h3v1h-3zM518 541h3v1h-3zM524 541h3v1h-3zM530 541h3v1h-3zM536 541h3v1h-3zM542 541h3v1h-3zM548 541h3v1h-3zM554 541h3v1h-3zM560 541h3v1h-3zM566 541h3v1h-3zM572 541h3v1h-3zM578 541h3v1h-3zM584 541h3v1h-3zM590 541h3v1h-3zM596 541h3v1h-3zM602 541h3v1h-3zM608 541h3v1h-3zM614 541h3v1h-3zM620 541h3v1h-3zM626 541h3v1h-3zM632 541h3v1h-3zM638 541h3v1h-3zM644 541h3v1h-3zM650 541h3v1h-3zM656 541h3v1h-3zM662 541h3v1h-3zM668 541h3v1h-3zM674 541h3v1h-3zM680 541h3v1h-3zM686 541h3v1h-3zM692 541h3v1h-3zM698 541h3v1h-3zM704 541h3v1h-3zM710 541h3v1h-3zM716 541h3v1h-3zM722 541h3v1h-3zM728 541h3v1h-3zM734 541h3v1h-3zM740 541h3v1h-3zM746 541h3v1h-3zM752 541h3v1h-3zM758 541h3v1h-3zM764 541h3v1h-3zM770 541h3v1h-3zM776 541h3v1h-3zM782 541h3v1h-3zM788 541h3v1h-3zM794 541h3v1h-3zM800 541h3v1h-3zM806 541h3v1h-3zM812 541h3v1h-3zM818 541h3v1h-3zM824 541h3v1h-3zM830 541h3v1h-3zM836 541h3v1h-3zM842 541h3v1h-3zM848 541h3v1h-3zM854 541h3v1h-3zM860 541h3v1h-3zM866 541h3v1h-3zM872 541h3v1h-3zM878 541h3v1h-3zM884 541h3v1h-3zM890 541h3v1h-3zM896 541h3v1h-3zM902 541h3v1h-3zM908 541h3v1h-3zM914 541h3v1h-3zM920 541h3v1h-3zM926 541h3v1h-3zM932 541h3v1h-3zM938 541h3v1h-3zM944 541h3v1h-3zM950 541h3v1h-3zM956 541h3v1h-3zM962 541h3v1h-3zM968 541h3v1h-3zM974 541h3v1h-3zM980 541h3v1h-3zM986 541h3v1h-3zM992 541h3v1h-3zM998 541h3v1h-3zM1004 541h3v1h-3zM1010 541h3v1h-3zM1016 541h3v1h-3zM1022 541h3v1h-3zM1028 541h3v1h-3zM1034 541h3v1h-3zM1040 541h3v1h-3zM1046 541h3v1h-3zM1052 541h3v1h-3zM1058 541h3v1h-3zM1064 541h3v1h-3zM1070 541h3v1h-3zM1076 541h3v1h-3zM1082 541h3v1h-3zM1088 541h3v1h-3zM1094 541h3v1h-3zM1100 541h3v1h-3zM1106 541h3v1h-3zM1112 541h3v1h-3zM1118 541h3v1h-3zM1124 541h3v1h-3zM1130 541h3v1h-3zM1136 541h3v1h-3zM1142 541h3v1h-3z"/>
<path fill="#C0C0C0" d="M2 560h3v1h-3zM8 560h3v1h-3zM14 560h3v1h-3zM20 560h3v1h-3zM26 560h3v1h-3zM32 560h3v1h-3zM38 560h3v1h-3zM44 560h3v1h-3zM50 560h3v1h-3zM56 560h3v1h-3zM62 560h3v1h-3zM68 560h3v1h-3zM74 560h3v1h-3zM80 560h3v1h-3zM86 560h3v1h-3zM92 560h3v1h-3zM98 560h3v1h-3zM104 560h3v1h-3zM110 560h3v1h-3zM116 560h3v1h-3zM122 560h3v1h-3zM128 560h3v1h-3zM134 560h3v1h-3zM140 560h3v1h-3zM146 560h3v1h-3zM152 560h3v1h-3zM158 560h3v1h-3zM164 560h3v1h-3zM170 560h3v1h-3zM176 560h3v1h-3zM182 560h3v1h-3zM188 560h3v1h-3zM194 560h3v1h-3zM200 560h3v1h-3zM206 560h3v1h-3zM212 560h3v1h-3zM218 560h3v1h-3zM224 560h3v1h-3zM230 560h3v1h-3zM236 560h3v1h-3zM242 560h3v1h-3zM248 560h3v1h-3zM254 560h3v1h-3zM260 560h3v1h-3zM266 560h3v1h-3zM272 560h3v1h-3zM278 560h3v1h-3zM284 560h3v1h-3zM290 560h3v1h-3zM296 560h3v1h-3zM302 560h3v1h-3zM308 560h3v1h-3zM314 560h3v1h-3zM320 560h3v1h-3zM326 560h3v1h-3zM332 560h3v1h-3zM338 560h3v1h-3zM344 560h3v1h-3zM350 560h3v1h-3zM356 560h3v1h-3zM362 560h3v1h-3zM368 560h3v1h-3zM374 560h3v1h-3zM380 560h3v1h-3zM386 560h3v1h-3zM392 560h3v1h-3zM398 560h3v1h-3zM404 560h3v1h-3zM410 560h3v1h-3zM416 560h3v1h-3zM422 560h3v1h-3zM428 560h3v1h-3zM434 560h3v1h-3zM440 560h3v1h-3zM446 560h3v1h-3zM452 560h3v1h-3zM458 560h3v1h-3zM464 560h3v1h-3zM470 560h3v1h-3zM476 560h3v1h-3zM482 560h3v1h-3zM488 560h3v1h-3zM494 560h3v1h-3zM500 560h3v1h-3zM506 560h3v1h-3zM512 560h3v1h-3zM518 560h3v1h-3zM524 560h3v1h-3zM530 560h3v1h-3zM536 560h3v1h-3zM542 560h3v1h-3zM548 560h3v1h-3zM554 560h3v1h-3zM560 560h3v1h-3zM566 560h3v1h-3zM572 560h3v1h-3zM578 560h3v1h-3zM584 560h3v1h-3zM590 560h3v1h-3zM596 560h3v1h-3zM602 560h3v1h-3zM608 560h3v1h-3zM614 560h3v1h-3zM620 560h3v1h-3zM626 560h3v1h-3zM632 560h3v1h-3zM638 560h3v1h-3zM644 560h3v1h-3zM650 560h3v1h-3zM656 560h3v1h-3zM662 560h3v1h-3zM668 560h3v1h-3zM674 560h3v1h-3zM680 560h3v1h-3zM686 560h3v1h-3zM692 560h3v1h-3zM698 560h3v1h-3zM704 560h3v1h-3zM710 560h3v1h-3zM716 560h3v1h-3zM722 560h3v1h-3zM728 560h3v1h-3zM734 560h3v1h-3zM740 560h3v1h-3zM746 560h3v1h-3zM752 560h3v1h-3zM758 560h3v1h-3zM764 560h3v1h-3zM770 560h3v1h-3zM776 560h3v1h-3zM782 560h3v1h-3zM788 560h3v1h-3zM794 560h3v1h-3zM800 560h3v1h-3zM806 560h3v1h-3zM812 560h3v1h-3zM818 560h3v1h-3zM824 560h3v1h-3zM830 560h3v1h-3zM836 560h3v1h-3zM842 560h3v1h-3zM848 560h3v1h-3zM854 560h3v1h-3zM860 560h3v1h-3zM866 560h3v1h-3zM872 560h3v1h-3zM878 560h3v1h-3zM884 560h3v1h-3zM890 560h3v1h-3zM896 560h3v1h-3zM902 560h3v1h-3zM908 560h3v1h-3zM914 560h3v1h-3zM920 560h3v1h-3zM926 560h3v1h-3zM932 560h3v1h-3zM938 560h3v1h-3zM944 560h3v1h-3zM950 560h3v1h-3zM956 560h3v1h-3zM962 560h3v1h-3zM968 560h3v1h-3zM974 560h3v1h-3zM980 560h3v1h-3zM986 560h3v1h-3zM992 560h3v1h-3zM998 560h3v1h-3zM1004 560h3v1h-3zM1010 560h3v1h-3zM1016 560h3v1h-3zM1022 560h3v1h-3zM1028 560h3v1h-3zM1034 560h3v1h-3zM1040 560h3v1h-3zM1046 560h3v1h-3zM1052 560h3v1h-3zM1058 560h3v1h-3zM1064 560h3v1h-3zM1070 560h3v1h-3zM1076 560h3v1h-3zM1082 560h3v1h-3zM1088 560h3v1h-3zM1094 560h3v1h-3zM1100 560h3v1h-3zM1106 560h3v1h-3zM1112 560h3v1h-3zM1118 560h3v1h-3zM1124 560h3v1h-3zM1130 560h3v1h-3zM1136 560h3v1h-3zM1142 560h3v1h-3z"/>
<clipPath id="cm"><rect x="3" y="3" width="1144" height="488"/></clipPath><g clip-path="url(#cm)">
<rect x="2" y="59" width="1" height="66" fill="#000"/>
<rect x="0" y="59" width="5" height="66" fill="#000"/>
<rect x="1" y="60" width="3" height="64" fill="#FF5A5A"/>
<rect x="10" y="121" width="1" height="31" fill="#000"/>
<rect x="8" y="125" width="5" height="20" fill="#000"/>
<rect x="9" y="126" width="3" height="18" fill="#FF5A5A"/>
<rect x="18" y="138" width="1" height="29" fill="#000"/>
<rect x="16" y="148" width="5" height="10" fill="#000"/>
<rect x="17" y="149" width="3" height="8" fill="#26A69A"/>
<rect x="26" y="134" width="1" height="25" fill="#000"/>
<rect x="24" y="145" width="5" height="4" fill="#000"/>
<rect x="25" y="146" width="3" height="2" fill="#26A69A"/>
<rect x="34" y="114" width="1" height="38" fill="#000"/>
<rect x="32" y="142" width="5" height="4" fill="#000"/>
<rect x="33" y="143" width="3" height="2" fill="#26A69A"/>
<rect x="42" y="125" width="1" height="56" fill="#000"/>
<rect x="40" y="142" width="5" height="20" fill="#000"/>
<rect x="41" y="143" width="3" height="18" fill="#FF5A5A"/>
<rect x="50" y="156" width="1" height="64" fill="#000"/>
<rect x="48" y="161" width="5" height="20" fill="#000"/>
<rect x="49" y="162" width="3" height="18" fill="#FF5A5A"/>
<rect x="58" y="117" width="1" height="76" fill="#000"/>
<rect x="56" y="132" width="5" height="49" fill="#000"/>
<rect x="57" y="133" width="3" height="47" fill="#26A69A"/>
<rect x="66" y="110" width="1" height="58" fill="#000"/>
<rect x="64" y="129" width="5" height="15" fill="#000"/>
<rect x="65" y="130" width="3" height="13" fill="#26A69A"/>
<rect x="74" y="123" width="1" height="20" fill="#000"/>
<rect x="72" y="129" width="5" height="10" fill="#000"/>
<rect x="73" y="130" width="3" height="8" fill="#FF5A5A"/>
<rect x="82" y="132" width="1" height="71" fill="#000"/>
<rect x="80" y="138" width="5" height="47" fill="#000"/>
<rect x="81" y="139" width="3" height="45" fill="#FF5A5A"/>
<rect x="90" y="179" width="1" height="40" fill="#000"/>
<rect x="88" y="184" width="5" height="12" fill="#000"/>
<rect x="89" y="185" width="3" height="10" fill="#FF5A5A"/>
<rect x="98" y="169" width="1" height="91" fill="#000"/>
<rect x="96" y="184" width="5" height="12" fill="#000"/>
<rect x="97" y="185" width="3" height="10" fill="#26A69A"/>
<rect x="106" y="149" width="1" height="49" fill="#000"/>
<rect x="104" y="149" width="5" height="36" fill="#000"/>
<rect x="105" y="150" width="3" height="34" fill="#26A69A"/>
<rect x="114" y="148" width="1" height="43" fill="#000"/>
<rect x="112" y="159" width="5" height="19" fill="#000"/>
<rect x="113" y="160" width="3" height="17" fill="#FF5A5A"/>
<rect x="122" y="177" width="1" height="23" fill="#000"/>
<rect x="120" y="178" width="5" height="13" fill="#000"/>
<rect x="121" y="179" width="3" height="11" fill="#FF5A5A"/>
<rect x="130" y="154" width="1" height="57" fill="#000"/>
<rect x="128" y="190" width="5" height="16" fill="#000"/>
<rect x="129" y="191" width="3" height="14" fill="#FF5A5A"/>
<rect x="138" y="126" width="1" height="84" fill="#000"/>
<rect x="136" y="139" width="5" height="66" fill="#000"/>
<rect x="137" y="140" width="3" height="64" fill="#26A69A"/>
<rect x="146" y="55" width="1" height="94" fill="#000"/>
<rect x="144" y="115" width="5" height="25" fill="#000"/>
<rect x="145" y="116" width="3" height="23" fill="#26A69A"/>
<rect x="154" y="76" width="1" height="151" fill="#000"/>
<rect x="152" y="115" width="5" height="60" fill="#000"/>
<rect x="153" y="116" width="3" height="58" fill="#FF5A5A"/>
<rect x="162" y="171" width="1" height="47" fill="#000"/>
<rect x="160" y="186" width="5" height="32" fill="#000"/>
<rect x="161" y="187" width="3" height="30" fill="#26A69A"/>
<rect x="170" y="152" width="1" height="57" fill="#000"/>
<rect x="168" y="187" width="5" height="22" fill="#000"/>
<rect x="169" y="188" width="3" height="20" fill="#FF5A5A"/>
<rect x="178" y="196" width="1" height="60" fill="#000"/>
<rect x="176" y="208" width="5" height="23" fill="#000"/>
<rect x="177" y="209" width="3" height="21" fill="#FF5A5A"/>
<rect x="186" y="175" width="1" height="113" fill="#000"/>
<rect x="184" y="224" width="5" height="7" fill="#000"/>
<rect x="185" y="225" width="3" height="5" fill="#26A69A"/>
<rect x="194" y="75" width="1" height="184" fill="#000"/>
<rect x="192" y="82" width="5" height="143" fill="#000"/>
<rect x="193" y="83" width="3" height="141" fill="#26A69A"/>
<rect x="202" y="46" width="1" height="52" fill="#000"/>
<rect x="200" y="68" width="5" height="15" fill="#000"/>
<rect x="201" y="69" width="3" height="13" fill="#26A69A"/>
<rect x="210" y="48" width="1" height="44" fill="#000"/>
<rect x="208" y="64" width="5" height="14" fill="#000"/>
<rect x="209" y="65" width="3" height="12" fill="#26A69A"/>
<rect x="218" y="48" width="1" height="22" fill="#000"/>
<rect x="216" y="57" width="5" height="8" fill="#000"/>
<rect x="217" y="58" width="3" height="6" fill="#26A69A"/>
<rect x="226" y="24" width="1" height="48" fill="#000"/>
<rect x="224" y="43" width="5" height="15" fill="#000"/>
<rect x="225" y="44" width="3" height="13" fill="#26A69A"/>
<rect x="234" y="15" width="1" height="193" fill="#000"/>
<rect x="232" y="43" width="5" height="159" fill="#000"/>
<rect x="233" y="44" width="3" height="157" fill="#FF5A5A"/>
<rect x="242" y="198" width="1" height="110" fill="#000"/>
<rect x="240" y="202" width="5" height="98" fill="#000"/>
<rect x="241" y="203" width="3" height="96" fill="#FF5A5A"/>
<rect x="250" y="252" width="1" height="53" fill="#000"/>
<rect x="248" y="272" width="5" height="28" fill="#000"/>
<rect x="249" y="273" width="3" height="26" fill="#26A69A"/>
<rect x="258" y="273" width="1" height="63" fill="#000"/>
<rect x="256" y="291" width="5" height="22" fill="#000"/>
<rect x="257" y="292" width="3" height="20" fill="#FF5A5A"/>
<rect x="266" y="308" width="1" height="28" fill="#000"/>
<rect x="264" y="312" width="5" height="2" fill="#000"/>
<rect x="274" y="279" width="1" height="55" fill="#000"/>
<rect x="272" y="312" width="5" height="20" fill="#000"/>
<rect x="273" y="313" width="3" height="18" fill="#FF5A5A"/>
<rect x="282" y="327" width="1" height="100" fill="#000"/>
<rect x="280" y="332" width="5" height="90" fill="#000"/>
<rect x="281" y="333" width="3" height="88" fill="#FF5A5A"/>
<rect x="290" y="404" width="1" height="81" fill="#000"/>
<rect x="288" y="421" width="5" height="32" fill="#000"/>
<rect x="289" y="422" width="3" height="30" fill="#FF5A5A"/>
<rect x="298" y="437" width="1" height="33" fill="#000"/>
<rect x="296" y="452" width="5" height="2" fill="#000"/>
<rect x="306" y="429" width="1" height="43" fill="#000"/>
<rect x="304" y="432" width="5" height="36" fill="#000"/>
<rect x="305" y="433" width="3" height="34" fill="#26A69A"/>
<rect x="314" y="413" width="1" height="33" fill="#000"/>
<rect x="312" y="421" width="5" height="12" fill="#000"/>
<rect x="313" y="422" width="3" height="10" fill="#26A69A"/>
<rect x="322" y="397" width="1" height="48" fill="#000"/>
<rect x="320" y="421" width="5" height="20" fill="#000"/>
<rect x="321" y="422" width="3" height="18" fill="#FF5A5A"/>
<rect x="330" y="385" width="1" height="67" fill="#000"/>
<rect x="328" y="400" width="5" height="41" fill="#000"/>
<rect x="329" y="401" width="3" height="39" fill="#26A69A"/>
<rect x="338" y="334" width="1" height="77" fill="#000"/>
<rect x="336" y="342" width="5" height="59" fill="#000"/>
<rect x="337" y="343" width="3" height="57" fill="#26A69A"/>
<rect x="346" y="328" width="1" height="30" fill="#000"/>
<rect x="344" y="338" width="5" height="5" fill="#000"/>
<rect x="345" y="339" width="3" height="3" fill="#26A69A"/>
<rect x="354" y="309" width="1" height="52" fill="#000"/>
<rect x="352" y="314" width="5" height="35" fill="#000"/>
<rect x="353" y="315" width="3" height="33" fill="#26A69A"/>
<rect x="362" y="311" width="1" height="27" fill="#000"/>
<rect x="360" y="314" width="5" height="10" fill="#000"/>
<rect x="361" y="315" width="3" height="8" fill="#FF5A5A"/>
<rect x="370" y="264" width="1" height="72" fill="#000"/>
<rect x="368" y="272" width="5" height="52" fill="#000"/>
<rect x="369" y="273" width="3" height="50" fill="#26A69A"/>
<rect x="378" y="260" width="1" height="37" fill="#000"/>
<rect x="376" y="272" width="5" height="16" fill="#000"/>
<rect x="377" y="273" width="3" height="14" fill="#FF5A5A"/>
<rect x="386" y="256" width="1" height="48" fill="#000"/>
<rect x="384" y="287" width="5" height="4" fill="#000"/>
<rect x="385" y="288" width="3" height="2" fill="#FF5A5A"/>
<rect x="394" y="270" width="1" height="27" fill="#000"/>
<rect x="392" y="282" width="5" height="10" fill="#000"/>
<rect x="393" y="283" width="3" height="8" fill="#26A69A"/>
<rect x="402" y="266" width="1" height="45" fill="#000"/>
<rect x="400" y="272" width="5" height="27" fill="#000"/>
<rect x="401" y="273" width="3" height="25" fill="#26A69A"/>
<rect x="410" y="262" width="1" height="23" fill="#000"/>
<rect x="408" y="272" width="5" height="6" fill="#000"/>
<rect x="409" y="273" width="3" height="4" fill="#FF5A5A"/>
<rect x="418" y="266" width="1" height="45" fill="#000"/>
<rect x="416" y="276" width="5" height="2" fill="#000"/>
<rect x="426" y="270" width="1" height="116" fill="#000"/>
<rect x="424" y="277" width="5" height="92" fill="#000"/>
<rect x="425" y="278" width="3" height="90" fill="#FF5A5A"/>
<rect x="434" y="291" width="1" height="83" fill="#000"/>
<rect x="432" y="301" width="5" height="68" fill="#000"/>
<rect x="433" y="302" width="3" height="66" fill="#26A69A"/>
<rect x="442" y="279" width="1" height="34" fill="#000"/>
<rect x="440" y="301" width="5" height="3" fill="#000"/>
<rect x="441" y="302" width="3" height="1" fill="#FF5A5A"/>
<rect x="450" y="294" width="1" height="26" fill="#000"/>
<rect x="448" y="299" width="5" height="5" fill="#000"/>
<rect x="449" y="300" width="3" height="3" fill="#26A69A"/>
<rect x="458" y="292" width="1" height="21" fill="#000"/>
<rect x="456" y="299" width="5" height="8" fill="#000"/>
<rect x="457" y="300" width="3" height="6" fill="#FF5A5A"/>
<rect x="466" y="269" width="1" height="53" fill="#000"/>
<rect x="464" y="306" width="5" height="8" fill="#000"/>
<rect x="465" y="307" width="3" height="6" fill="#FF5A5A"/>
<rect x="474" y="268" width="1" height="68" fill="#000"/>
<rect x="472" y="296" width="5" height="19" fill="#000"/>
<rect x="473" y="297" width="3" height="17" fill="#26A69A"/>
<rect x="482" y="254" width="1" height="51" fill="#000"/>
<rect x="480" y="278" width="5" height="19" fill="#000"/>
<rect x="481" y="279" width="3" height="17" fill="#26A69A"/>
<rect x="490" y="264" width="1" height="24" fill="#000"/>
<rect x="488" y="277" width="5" height="2" fill="#000"/>
<rect x="498" y="252" width="1" height="51" fill="#000"/>
<rect x="496" y="267" width="5" height="33" fill="#000"/>
<rect x="497" y="268" width="3" height="31" fill="#26A69A"/>
<rect x="506" y="263" width="1" height="22" fill="#000"/>
<rect x="504" y="267" width="5" height="13" fill="#000"/>
<rect x="505" y="268" width="3" height="11" fill="#FF5A5A"/>
<rect x="514" y="232" width="1" height="69" fill="#000"/>
<rect x="512" y="279" width="5" height="16" fill="#000"/>
<rect x="513" y="280" width="3" height="14" fill="#FF5A5A"/>
<rect x="522" y="286" width="1" height="37" fill="#000"/>
<rect x="520" y="294" width="5" height="23" fill="#000"/>
<rect x="521" y="295" width="3" height="21" fill="#FF5A5A"/>
<rect x="530" y="260" width="1" height="57" fill="#000"/>
<rect x="528" y="260" width="5" height="57" fill="#000"/>
<rect x="529" y="261" width="3" height="55" fill="#26A69A"/>
<rect x="538" y="259" width="1" height="36" fill="#000"/>
<rect x="536" y="260" width="5" height="24" fill="#000"/>
<rect x="537" y="261" width="3" height="22" fill="#FF5A5A"/>
<rect x="546" y="281" width="1" height="19" fill="#000"/>
<rect x="544" y="293" width="5" height="3" fill="#000"/>
<rect x="545" y="294" width="3" height="1" fill="#FF5A5A"/>
<rect x="554" y="295" width="1" height="23" fill="#000"/>
<rect x="552" y="295" width="5" height="12" fill="#000"/>
<rect x="553" y="296" width="3" height="10" fill="#FF5A5A"/>
<rect x="562" y="230" width="1" height="77" fill="#000"/>
<rect x="560" y="232" width="5" height="75" fill="#000"/>
<rect x="561" y="233" width="3" height="73" fill="#26A69A"/>
<rect x="570" y="174" width="1" height="179" fill="#000"/>
<rect x="568" y="233" width="5" height="114" fill="#000"/>
<rect x="569" y="234" width="3" height="112" fill="#FF5A5A"/>
<rect x="578" y="318" width="1" height="61" fill="#000"/>
<rect x="576" y="333" width="5" height="14" fill="#000"/>
<rect x="577" y="334" width="3" height="12" fill="#26A69A"/>
<rect x="586" y="327" width="1" height="57" fill="#000"/>
<rect x="584" y="333" width="5" height="15" fill="#000"/>
<rect x="585" y="334" width="3" height="13" fill="#FF5A5A"/>
<rect x="594" y="335" width="1" height="40" fill="#000"/>
<rect x="592" y="339" width="5" height="27" fill="#000"/>
<rect x="593" y="340" width="3" height="25" fill="#26A69A"/>
<rect x="602" y="324" width="1" height="24" fill="#000"/>
<rect x="600" y="328" width="5" height="12" fill="#000"/>
<rect x="601" y="329" width="3" height="10" fill="#26A69A"/>
<rect x="610" y="313" width="1" height="140" fill="#000"/>
<rect x="608" y="328" width="5" height="118" fill="#000"/>
<rect x="609" y="329" width="3" height="116" fill="#FF5A5A"/>
<rect x="618" y="392" width="1" height="61" fill="#000"/>
<rect x="616" y="412" width="5" height="34" fill="#000"/>
<rect x="617" y="413" width="3" height="32" fill="#26A69A"/>
<rect x="626" y="397" width="1" height="48" fill="#000"/>
<rect x="624" y="399" width="5" height="14" fill="#000"/>
<rect x="625" y="400" width="3" height="12" fill="#26A69A"/>
<rect x="634" y="388" width="1" height="26" fill="#000"/>
<rect x="632" y="396" width="5" height="4" fill="#000"/>
<rect x="633" y="397" width="3" height="2" fill="#26A69A"/>
<rect x="642" y="382" width="1" height="51" fill="#000"/>
<rect x="640" y="402" width="5" height="12" fill="#000"/>
<rect x="641" y="403" width="3" height="10" fill="#26A69A"/>
<rect x="650" y="390" width="1" height="20" fill="#000"/>
<rect x="648" y="398" width="5" height="5" fill="#000"/>
<rect x="649" y="399" width="3" height="3" fill="#26A69A"/>
<rect x="658" y="382" width="1" height="59" fill="#000"/>
<rect x="656" y="398" width="5" height="21" fill="#000"/>
<rect x="657" y="399" width="3" height="19" fill="#FF5A5A"/>
<rect x="666" y="377" width="1" height="65" fill="#000"/>
<rect x="664" y="389" width="5" height="30" fill="#000"/>
<rect x="665" y="390" width="3" height="28" fill="#26A69A"/>
<rect x="674" y="340" width="1" height="66" fill="#000"/>
<rect x="672" y="358" width="5" height="33" fill="#000"/>
<rect x="673" y="359" width="3" height="31" fill="#26A69A"/>
<rect x="682" y="329" width="1" height="34" fill="#000"/>
<rect x="680" y="333" width="5" height="26" fill="#000"/>
<rect x="681" y="334" width="3" height="24" fill="#26A69A"/>
<rect x="690" y="324" width="1" height="47" fill="#000"/>
<rect x="688" y="355" width="5" height="3" fill="#000"/>
<rect x="689" y="356" width="3" height="1" fill="#26A69A"/>
<rect x="698" y="354" width="1" height="22" fill="#000"/>
<rect x="696" y="355" width="5" height="12" fill="#000"/>
<rect x="697" y="356" width="3" height="10" fill="#FF5A5A"/>
<rect x="706" y="323" width="1" height="58" fill="#000"/>
<rect x="704" y="360" width="5" height="7" fill="#000"/>
<rect x="705" y="361" width="3" height="5" fill="#26A69A"/>
<rect x="714" y="332" width="1" height="93" fill="#000"/>
<rect x="712" y="360" width="5" height="35" fill="#000"/>
<rect x="713" y="361" width="3" height="33" fill="#FF5A5A"/>
<rect x="722" y="318" width="1" height="102" fill="#000"/>
<rect x="720" y="319" width="5" height="76" fill="#000"/>
<rect x="721" y="320" width="3" height="74" fill="#26A69A"/>
<rect x="730" y="288" width="1" height="51" fill="#000"/>
<rect x="728" y="319" width="5" height="15" fill="#000"/>
<rect x="729" y="320" width="3" height="13" fill="#FF5A5A"/>
<rect x="738" y="283" width="1" height="60" fill="#000"/>
<rect x="736" y="307" width="5" height="35" fill="#000"/>
<rect x="737" y="308" width="3" height="33" fill="#26A69A"/>
<rect x="746" y="294" width="1" height="19" fill="#000"/>
<rect x="744" y="298" width="5" height="10" fill="#000"/>
<rect x="745" y="299" width="3" height="8" fill="#26A69A"/>
<rect x="754" y="279" width="1" height="42" fill="#000"/>
<rect x="752" y="298" width="5" height="9" fill="#000"/>
<rect x="753" y="299" width="3" height="7" fill="#FF5A5A"/>
<rect x="762" y="293" width="1" height="45" fill="#000"/>
<rect x="760" y="306" width="5" height="29" fill="#000"/>
<rect x="761" y="307" width="3" height="27" fill="#FF5A5A"/>
<rect x="770" y="333" width="1" height="32" fill="#000"/>
<rect x="768" y="334" width="5" height="16" fill="#000"/>
<rect x="769" y="335" width="3" height="14" fill="#FF5A5A"/>
<rect x="778" y="332" width="1" height="21" fill="#000"/>
<rect x="776" y="340" width="5" height="11" fill="#000"/>
<rect x="777" y="341" width="3" height="9" fill="#26A69A"/>
<rect x="786" y="339" width="1" height="30" fill="#000"/>
<rect x="784" y="362" width="5" height="2" fill="#000"/>
<rect x="794" y="354" width="1" height="19" fill="#000"/>
<rect x="792" y="362" width="5" height="6" fill="#000"/>
<rect x="793" y="363" width="3" height="4" fill="#FF5A5A"/>
<rect x="802" y="321" width="1" height="49" fill="#000"/>
<rect x="800" y="327" width="5" height="41" fill="#000"/>
<rect x="801" y="328" width="3" height="39" fill="#26A69A"/>
<rect x="810" y="249" width="1" height="109" fill="#000"/>
<rect x="808" y="254" width="5" height="74" fill="#000"/>
<rect x="809" y="255" width="3" height="72" fill="#26A69A"/>
<rect x="818" y="207" width="1" height="73" fill="#000"/>
<rect x="816" y="254" width="5" height="15" fill="#000"/>
<rect x="817" y="255" width="3" height="13" fill="#FF5A5A"/>
<rect x="826" y="268" width="1" height="35" fill="#000"/>
<rect x="824" y="268" width="5" height="26" fill="#000"/>
<rect x="825" y="269" width="3" height="24" fill="#FF5A5A"/>
<rect x="834" y="282" width="1" height="23" fill="#000"/>
<rect x="832" y="282" width="5" height="22" fill="#000"/>
<rect x="833" y="283" width="3" height="20" fill="#26A69A"/>
<rect x="842" y="264" width="1" height="19" fill="#000"/>
<rect x="840" y="271" width="5" height="12" fill="#000"/>
<rect x="841" y="272" width="3" height="10" fill="#26A69A"/>
<rect x="850" y="269" width="1" height="61" fill="#000"/>
<rect x="848" y="271" width="5" height="41" fill="#000"/>
<rect x="849" y="272" width="3" height="39" fill="#FF5A5A"/>
<rect x="858" y="277" width="1" height="42" fill="#000"/>
<rect x="856" y="289" width="5" height="23" fill="#000"/>
<rect x="857" y="290" width="3" height="21" fill="#26A69A"/>
<rect x="866" y="270" width="1" height="54" fill="#000"/>
<rect x="864" y="289" width="5" height="16" fill="#000"/>
<rect x="865" y="290" width="3" height="14" fill="#FF5A5A"/>
<rect x="874" y="256" width="1" height="68" fill="#000"/>
<rect x="872" y="264" width="5" height="41" fill="#000"/>
<rect x="873" y="265" width="3" height="39" fill="#26A69A"/>
<rect x="882" y="247" width="1" height="36" fill="#000"/>
<rect x="880" y="260" width="5" height="14" fill="#000"/>
<rect x="881" y="261" width="3" height="12" fill="#26A69A"/>
<rect x="890" y="244" width="1" height="33" fill="#000"/>
<rect x="888" y="250" width="5" height="11" fill="#000"/>
<rect x="889" y="251" width="3" height="9" fill="#26A69A"/>
<rect x="898" y="131" width="1" height="121" fill="#000"/>
<rect x="896" y="193" width="5" height="58" fill="#000"/>
<rect x="897" y="194" width="3" height="56" fill="#26A69A"/>
<rect x="906" y="167" width="1" height="119" fill="#000"/>
<rect x="904" y="193" width="5" height="89" fill="#000"/>
<rect x="905" y="194" width="3" height="87" fill="#FF5A5A"/>
<rect x="914" y="223" width="1" height="90" fill="#000"/>
<rect x="912" y="229" width="5" height="53" fill="#000"/>
<rect x="913" y="230" width="3" height="51" fill="#26A69A"/>
<rect x="922" y="214" width="1" height="38" fill="#000"/>
<rect x="920" y="221" width="5" height="9" fill="#000"/>
<rect x="921" y="222" width="3" height="7" fill="#26A69A"/>
<rect x="930" y="211" width="1" height="34" fill="#000"/>
<rect x="928" y="218" width="5" height="15" fill="#000"/>
<rect x="929" y="219" width="3" height="13" fill="#26A69A"/>
<rect x="938" y="211" width="1" height="17" fill="#000"/>
<rect x="936" y="217" width="5" height="3" fill="#000"/>
<rect x="937" y="218" width="3" height="1" fill="#FF5A5A"/>
<rect x="946" y="191" width="1" height="53" fill="#000"/>
<rect x="944" y="220" width="5" height="11" fill="#000"/>
<rect x="945" y="221" width="3" height="9" fill="#FF5A5A"/>
<rect x="954" y="146" width="1" height="85" fill="#000"/>
<rect x="952" y="161" width="5" height="70" fill="#000"/>
<rect x="953" y="162" width="3" height="68" fill="#26A69A"/>
<rect x="962" y="148" width="1" height="65" fill="#000"/>
<rect x="960" y="161" width="5" height="29" fill="#000"/>
<rect x="961" y="162" width="3" height="27" fill="#FF5A5A"/>
<rect x="970" y="175" width="1" height="37" fill="#000"/>
<rect x="968" y="189" width="5" height="14" fill="#000"/>
<rect x="969" y="190" width="3" height="12" fill="#FF5A5A"/>
<rect x="978" y="193" width="1" height="29" fill="#000"/>
<rect x="976" y="201" width="5" height="19" fill="#000"/>
<rect x="977" y="202" width="3" height="17" fill="#FF5A5A"/>
<rect x="986" y="204" width="1" height="26" fill="#000"/>
<rect x="984" y="210" width="5" height="10" fill="#000"/>
<rect x="985" y="211" width="3" height="8" fill="#26A69A"/>
<rect x="994" y="183" width="1" height="35" fill="#000"/>
<rect x="992" y="187" width="5" height="24" fill="#000"/>
<rect x="993" y="188" width="3" height="22" fill="#26A69A"/>
<rect x="1002" y="149" width="1" height="50" fill="#000"/>
<rect x="1000" y="154" width="5" height="34" fill="#000"/>
<rect x="1001" y="155" width="3" height="32" fill="#26A69A"/>
<rect x="1010" y="151" width="1" height="50" fill="#000"/>
<rect x="1008" y="154" width="5" height="39" fill="#000"/>
<rect x="1009" y="155" width="3" height="37" fill="#FF5A5A"/>
<rect x="1018" y="170" width="1" height="33" fill="#000"/>
<rect x="1016" y="176" width="5" height="17" fill="#000"/>
<rect x="1017" y="177" width="3" height="15" fill="#26A69A"/>
<rect x="1026" y="173" width="1" height="30" fill="#000"/>
<rect x="1024" y="188" width="5" height="9" fill="#000"/>
<rect x="1025" y="189" width="3" height="7" fill="#26A69A"/>
<rect x="1034" y="173" width="1" height="24" fill="#000"/>
<rect x="1032" y="185" width="5" height="4" fill="#000"/>
<rect x="1033" y="186" width="3" height="2" fill="#26A69A"/>
<rect x="1042" y="154" width="1" height="36" fill="#000"/>
<rect x="1040" y="169" width="5" height="16" fill="#000"/>
<rect x="1041" y="170" width="3" height="14" fill="#26A69A"/>
<rect x="1050" y="158" width="1" height="45" fill="#000"/>
<rect x="1048" y="169" width="5" height="14" fill="#000"/>
<rect x="1049" y="170" width="3" height="12" fill="#FF5A5A"/>
<rect x="1058" y="158" width="1" height="65" fill="#000"/>
<rect x="1056" y="175" width="5" height="8" fill="#000"/>
<rect x="1057" y="176" width="3" height="6" fill="#26A69A"/>
<rect x="1066" y="160" width="1" height="30" fill="#000"/>
<rect x="1064" y="175" width="5" height="1" fill="#000"/>
<rect x="1074" y="173" width="1" height="27" fill="#000"/>
<rect x="1072" y="177" width="5" height="16" fill="#000"/>
<rect x="1073" y="178" width="3" height="14" fill="#FF5A5A"/>
<rect x="1082" y="189" width="1" height="39" fill="#000"/>
<rect x="1080" y="192" width="5" height="32" fill="#000"/>
<rect x="1081" y="193" width="3" height="30" fill="#FF5A5A"/>
<rect x="1090" y="218" width="1" height="73" fill="#000"/>
<rect x="1088" y="224" width="5" height="64" fill="#000"/>
<rect x="1089" y="225" width="3" height="62" fill="#FF5A5A"/>
<rect x="1098" y="262" width="1" height="32" fill="#000"/>
<rect x="1096" y="266" width="5" height="22" fill="#000"/>
<rect x="1097" y="267" width="3" height="20" fill="#26A69A"/>
</g>
<polyline fill="none" stroke="#0000CD" stroke-width="2" stroke-linejoin="round" points="2.5,542 10.5,544 18.5,544 26.5,544 34.5,543 42.5,545 50.5,548 58.5,541 66.5,541 74.5,542 82.5,548 90.5,549 98.5,547 106.5,543 114.5,545 122.5,547 130.5,549 138.5,540 146.5,537 154.5,545 162.5,545 170.5,548 178.5,550 186.5,550 194.5,532 202.5,531 210.5,531 218.5,530 226.5,530 234.5,547 242.5,554 250.5,552 258.5,554 266.5,554 274.5,555 282.5,562 290.5,562 298.5,562 306.5,559 314.5,559 322.5,559 330.5,554 338.5,547 346.5,546 354.5,544 362.5,544 370.5,539 378.5,540 386.5,540 394.5,539 402.5,539 410.5,539 418.5,539 426.5,551 434.5,542 442.5,542 450.5,542 458.5,542 466.5,543 474.5,542 482.5,538 490.5,538 498.5,537 506.5,538 514.5,541 522.5,545 530.5,537 538.5,540 546.5,543 554.5,543 562.5,534 570.5,547 578.5,547 586.5,547 594.5,547 602.5,545 610.5,556 618.5,551 626.5,550 634.5,550 642.5,550 650.5,550 658.5,551 666.5,548 674.5,543 682.5,540 690.5,542 698.5,543 706.5,543 714.5,547 722.5,538 730.5,539 738.5,535 746.5,535 754.5,536 762.5,540 770.5,542 778.5,542 786.5,545 794.5,545 802.5,539 810.5,530 818.5,532 826.5,536 834.5,534 842.5,534 850.5,540 858.5,537 866.5,539 874.5,534 882.5,534 890.5,533 898.5,526 906.5,539 914.5,534 922.5,534 930.5,533 938.5,534 946.5,534 954.5,528 962.5,532 970.5,533 978.5,536 986.5,536 994.5,532 1002.5,530 1010.5,535 1018.5,534 1026.5,535 1034.5,535 1042.5,533 1050.5,535 1058.5,535 1066.5,534 1074.5,537 1082.5,543 1090.5,552 1098.5,549"/>
<rect x="10" y="616" width="1" height="3" fill="#008000"/>
<rect x="18" y="617" width="1" height="2" fill="#FF0000"/>
<rect x="26" y="617" width="1" height="2" fill="#FF0000"/>
<rect x="34" y="620" width="1" height="1" fill="#FF0000"/>
<rect x="42" y="620" width="1" height="4" fill="#FF0000"/>
<rect x="50" y="620" width="1" height="6" fill="#FF0000"/>
<rect x="58" y="620" width="1" height="6" fill="#008000"/>
<rect x="66" y="620" width="1" height="6" fill="#008000"/>
<rect x="74" y="620" width="1" height="6" fill="#008000"/>
<rect x="82" y="620" width="1" height="6" fill="#FF0000"/>
<rect x="90" y="620" width="1" height="6" fill="#FF0000"/>
<rect x="98" y="620" width="1" height="9" fill="#FF0000"/>
<rect x="106" y="620" width="1" height="10" fill="#FF0000"/>
<rect x="114" y="620" width="1" height="11" fill="#FF0000"/>
<rect x="122" y="620" width="1" height="11" fill="#FF0000"/>
<rect x="130" y="620" width="1" height="11" fill="#008000"/>
<rect x="138" y="620" width="1" height="9" fill="#008000"/>
<rect x="146" y="620" width="1" height="6" fill="#008000"/>
<rect x="154" y="620" width="1" height="5" fill="#008000"/>
<rect x="162" y="620" width="1" height="4" fill="#008000"/>
<rect x="170" y="620" width="1" height="3" fill="#008000"/>
<rect x="178" y="620" width="1" height="5" fill="#FF0000"/>
<rect x="186" y="620" width="1" height="10" fill="#FF0000"/>
<rect x="194" y="620" width="1" height="11" fill="#FF0000"/>
<rect x="202" y="620" width="1" height="5" fill="#008000"/>
<rect x="218" y="611" width="1" height="8" fill="#008000"/>
<rect x="226" y="603" width="1" height="16" fill="#008000"/>
<rect x="234" y="601" width="1" height="18" fill="#008000"/>
<rect x="242" y="609" width="1" height="10" fill="#FF0000"/>
<rect x="250" y="618" width="1" height="1" fill="#FF0000"/>
<rect x="258" y="620" width="1" height="9" fill="#FF0000"/>
<rect x="266" y="620" width="1" height="21" fill="#FF0000"/>
<rect x="274" y="620" width="1" height="29" fill="#FF0000"/>
<rect x="282" y="620" width="1" height="33" fill="#FF0000"/>
<rect x="290" y="620" width="1" height="39" fill="#FF0000"/>
<rect x="298" y="620" width="1" height="44" fill="#FF0000"/>
<rect x="306" y="620" width="1" height="48" fill="#FF0000"/>
<rect x="314" y="620" width="1" height="52" fill="#FF0000"/>
<rect x="322" y="620" width="1" height="52" fill="#FF0000"/>
<rect x="330" y="620" width="1" height="49" fill="#008000"/>
<rect x="338" y="620" width="1" height="44" fill="#008000"/>
<rect x="346" y="620" width="1" height="37" fill="#008000"/>
<rect x="354" y="620" width="1" height="31" fill="#008000"/>
<rect x="362" y="620" width="1" height="26" fill="#008000"/>
<rect x="370" y="620" width="1" height="19" fill="#008000"/>
<rect x="378" y="620" width="1" height="14" fill="#008000"/>
<rect x="386" y="620" width="1" height="10" fill="#008000"/>
<rect x="394" y="620" width="1" height="7" fill="#008000"/>
<rect x="402" y="620" width="1" height="5" fill="#008000"/>
<rect x="410" y="620" width="1" height="3" fill="#008000"/>
<rect x="418" y="620" width="1" height="2" fill="#008000"/>
<rect x="426" y="620" width="1" height="3" fill="#FF0000"/>
<rect x="434" y="620" width="1" height="4" fill="#FF0000"/>
<rect x="442" y="620" width="1" height="4" fill="#008000"/>
<rect x="450" y="620" width="1" height="5" fill="#FF0000"/>
<rect x="458" y="620" width="1" height="5" fill="#FF0000"/>
<rect x="466" y="620" width="1" height="3" fill="#008000"/>
<rect x="474" y="618" width="1" height="1" fill="#008000"/>
<rect x="482" y="616" width="1" height="3" fill="#008000"/>
<rect x="490" y="613" width="1" height="6" fill="#008000"/>
<rect x="498" y="610" width="1" height="9" fill="#008000"/>
<rect x="506" y="608" width="1" height="11" fill="#008000"/>
<rect x="514" y="606" width="1" height="13" fill="#008000"/>
<rect x="522" y="607" width="1" height="12" fill="#FF0000"/>
<rect x="530" y="608" width="1" height="11" fill="#FF0000"/>
<rect x="538" y="608" width="1" height="11" fill="#FF0000"/>
<rect x="546" y="609" width="1" height="10" fill="#FF0000"/>
<rect x="554" y="612" width="1" height="7" fill="#FF0000"/>
<rect x="562" y="611" width="1" height="8" fill="#008000"/>
<rect x="570" y="611" width="1" height="8" fill="#FF0000"/>
<rect x="578" y="616" width="1" height="3" fill="#FF0000"/>
<rect x="594" y="620" width="1" height="3" fill="#FF0000"/>
<rect x="602" y="620" width="1" height="7" fill="#FF0000"/>
<rect x="610" y="620" width="1" height="12" fill="#FF0000"/>
<rect x="618" y="620" width="1" height="15" fill="#FF0000"/>
<rect x="626" y="620" width="1" height="18" fill="#FF0000"/>
<rect x="634" y="620" width="1" height="20" fill="#FF0000"/>
<rect x="642" y="620" width="1" height="22" fill="#FF0000"/>
<rect x="650" y="620" width="1" height="22" fill="#008000"/>
<rect x="658" y="620" width="1" height="21" fill="#008000"/>
<rect x="666" y="620" width="1" height="19" fill="#008000"/>
<rect x="674" y="620" width="1" height="18" fill="#008000"/>
<rect x="682" y="620" width="1" height="14" fill="#008000"/>
<rect x="690" y="620" width="1" height="11" fill="#008000"/>
<rect x="698" y="620" width="1" height="9" fill="#008000"/>
<rect x="706" y="620" width="1" height="6" fill="#008000"/>
<rect x="714" y="620" width="1" height="5" fill="#008000"/>
<rect x="722" y="620" width="1" height="6" fill="#FF0000"/>
<rect x="730" y="620" width="1" height="4" fill="#008000"/>
<rect x="738" y="620" width="1" height="2" fill="#008000"/>
<rect x="746" y="618" width="1" height="1" fill="#008000"/>
<rect x="754" y="614" width="1" height="5" fill="#008000"/>
<rect x="762" y="612" width="1" height="7" fill="#008000"/>
<rect x="770" y="613" width="1" height="6" fill="#FF0000"/>
<rect x="778" y="614" width="1" height="5" fill="#FF0000"/>
<rect x="786" y="615" width="1" height="4" fill="#FF0000"/>
<rect x="794" y="618" width="1" height="1" fill="#FF0000"/>
<rect x="810" y="617" width="1" height="2" fill="#008000"/>
<rect x="818" y="612" width="1" height="7" fill="#008000"/>
<rect x="826" y="609" width="1" height="10" fill="#008000"/>
<rect x="834" y="606" width="1" height="13" fill="#008000"/>
<rect x="842" y="602" width="1" height="17" fill="#008000"/>
<rect x="850" y="602" width="1" height="17" fill="#FF0000"/>
<rect x="858" y="605" width="1" height="14" fill="#FF0000"/>
<rect x="866" y="606" width="1" height="13" fill="#FF0000"/>
<rect x="874" y="606" width="1" height="13" fill="#FF0000"/>
<rect x="882" y="607" width="1" height="12" fill="#FF0000"/>
<rect x="890" y="606" width="1" height="13" fill="#008000"/>
<rect x="898" y="603" width="1" height="16" fill="#008000"/>
<rect x="906" y="600" width="1" height="19" fill="#008000"/>
<rect x="914" y="600" width="1" height="19" fill="#008000"/>
<rect x="922" y="600" width="1" height="19" fill="#008000"/>
<rect x="930" y="600" width="1" height="19" fill="#008000"/>
<rect x="938" y="602" width="1" height="17" fill="#FF0000"/>
<rect x="946" y="603" width="1" height="16" fill="#FF0000"/>
<rect x="954" y="600" width="1" height="19" fill="#008000"/>
<rect x="962" y="599" width="1" height="20" fill="#008000"/>
<rect x="970" y="599" width="1" height="20" fill="#008000"/>
<rect x="978" y="599" width="1" height="20" fill="#FF0000"/>
<rect x="986" y="600" width="1" height="19" fill="#FF0000"/>
<rect x="994" y="602" width="1" height="17" fill="#FF0000"/>
<rect x="1002" y="603" width="1" height="16" fill="#FF0000"/>
<rect x="1010" y="603" width="1" height="16" fill="#FF0000"/>
<rect x="1018" y="603" width="1" height="16" fill="#008000"/>
<rect x="1026" y="602" width="1" height="17" fill="#008000"/>
<rect x="1034" y="602" width="1" height="17" fill="#FF0000"/>
<rect x="1042" y="603" width="1" height="16" fill="#FF0000"/>
<rect x="1050" y="605" width="1" height="14" fill="#FF0000"/>
<rect x="1058" y="606" width="1" height="13" fill="#FF0000"/>
<rect x="1066" y="607" width="1" height="12" fill="#FF0000"/>
<rect x="1074" y="608" width="1" height="11" fill="#FF0000"/>
<rect x="1082" y="610" width="1" height="9" fill="#FF0000"/>
<rect x="1090" y="614" width="1" height="5" fill="#FF0000"/>
<rect x="1098" y="618" width="1" height="1" fill="#FF0000"/>
<rect x="2" y="2" width="1146" height="1" fill="#000"/>
<rect x="2" y="491" width="1146" height="1" fill="#000"/>
<rect x="2" y="2" width="1" height="490" fill="#000"/>
<rect x="1147" y="2" width="1" height="490" fill="#000"/>
<rect x="2" y="493" width="1146" height="1" fill="#000"/>
<rect x="2" y="589" width="1146" height="1" fill="#000"/>
<rect x="2" y="493" width="1" height="97" fill="#000"/>
<rect x="1147" y="493" width="1" height="97" fill="#000"/>
<rect x="2" y="591" width="1146" height="1" fill="#000"/>
<rect x="2" y="679" width="1146" height="1" fill="#000"/>
<rect x="2" y="591" width="1" height="89" fill="#000"/>
<rect x="1147" y="591" width="1" height="89" fill="#000"/>
<rect x="1148" y="7" width="4" height="1" fill="#000"/>
<rect x="1148" y="39" width="4" height="1" fill="#000"/>
<rect x="1148" y="71" width="4" height="1" fill="#000"/>
<rect x="1148" y="103" width="4" height="1" fill="#000"/>
<rect x="1148" y="136" width="4" height="1" fill="#000"/>
<rect x="1148" y="168" width="4" height="1" fill="#000"/>
<rect x="1148" y="200" width="4" height="1" fill="#000"/>
<rect x="1148" y="233" width="4" height="1" fill="#000"/>
<rect x="1148" y="297" width="4" height="1" fill="#000"/>
<rect x="1148" y="330" width="4" height="1" fill="#000"/>
<rect x="1148" y="362" width="4" height="1" fill="#000"/>
<rect x="1148" y="394" width="4" height="1" fill="#000"/>
<rect x="1148" y="426" width="4" height="1" fill="#000"/>
<rect x="1148" y="459" width="4" height="1" fill="#000"/>
<rect x="1148" y="265" width="2" height="1" fill="#000"/>
<rect x="1150" y="261" width="39" height="11" fill="#000"/>
<rect x="1148" y="494" width="4" height="1" fill="#000"/>
<rect x="1148" y="522" width="4" height="1" fill="#000"/>
<rect x="1148" y="541" width="4" height="1" fill="#000"/>
<rect x="1148" y="560" width="4" height="1" fill="#000"/>
<rect x="1148" y="588" width="4" height="1" fill="#000"/>
<rect x="1148" y="592" width="4" height="1" fill="#000"/>
<rect x="1148" y="678" width="4" height="1" fill="#000"/>
<rect x="2" y="680" width="1" height="4" fill="#000"/>
<rect x="66" y="680" width="1" height="4" fill="#000"/>
<rect x="130" y="680" width="1" height="4" fill="#000"/>
<rect x="194" y="680" width="1" height="4" fill="#000"/>
<rect x="258" y="680" width="1" height="4" fill="#000"/>
<rect x="322" y="680" width="1" height="4" fill="#000"/>
<rect x="386" y="680" width="1" height="4" fill="#000"/>
<rect x="450" y="680" width="1" height="4" fill="#000"/>
<rect x="514" y="680" width="1" height="4" fill="#000"/>
<rect x="578" y="680" width="1" height="4" fill="#000"/>
<rect x="642" y="680" width="1" height="4" fill="#000"/>
<rect x="706" y="680" width="1" height="4" fill="#000"/>
<rect x="770" y="680" width="1" height="4" fill="#000"/>
<rect x="834" y="680" width="1" height="4" fill="#000"/>
<rect x="898" y="680" width="1" height="4" fill="#000"/>
<rect x="962" y="680" width="1" height="4" fill="#000"/>
<rect x="1026" y="680" width="1" height="4" fill="#000"/>
<rect x="1090" y="680" width="1" height="4" fill="#000"/>
</svg>
<div id="txt" style="position:absolute;left:0;top:0;width:1200px;height:700px;will-change:transform;">
<div class="t" style="left:1153px;top:2px;">1.27765</div>
<div class="t" style="left:1153px;top:34px;">1.27590</div>
<div class="t" style="left:1153px;top:66px;">1.27415</div>
<div class="t" style="left:1153px;top:98px;">1.27240</div>
<div class="t" style="left:1153px;top:131px;">1.27065</div>
<div class="t" style="left:1153px;top:163px;">1.26890</div>
<div class="t" style="left:1153px;top:195px;">1.26715</div>
<div class="t" style="left:1153px;top:228px;">1.26540</div>
<div class="t" style="left:1153px;top:292px;">1.26190</div>
<div class="t" style="left:1153px;top:325px;">1.26015</div>
<div class="t" style="left:1153px;top:357px;">1.25840</div>
<div class="t" style="left:1153px;top:389px;">1.25665</div>
<div class="t" style="left:1153px;top:421px;">1.25490</div>
<div class="t" style="left:1153px;top:454px;">1.25315</div>
<div class="t" style="left:1153px;top:261px;color:#fff;">1.26360</div>
<div class="t" style="left:1153px;top:493px;">100.00</div>
<div class="t" style="left:1153px;top:517px;">70.00</div>
<div class="t" style="left:1153px;top:536px;">50.00</div>
<div class="t" style="left:1153px;top:555px;">30.00</div>
<div class="t" style="left:1153px;top:578px;">0.00</div>
<div class="t" style="left:1153px;top:591px;">0.006268</div>
<div class="t" style="left:1153px;top:668px;">-0.013522</div>
<div class="t" style="left:2px;top:683px;letter-spacing:0.17px;">26 Jan 2024</div>
<div class="t" style="left:66px;top:683px;">30 Jan 00:00</div>
<div class="t" style="left:130px;top:683px;">31 Jan 08:00</div>
<div class="t" style="left:194px;top:683px;letter-spacing:0.09px;">1 Feb 16:00</div>
<div class="t" style="left:258px;top:683px;letter-spacing:0.09px;">5 Feb 00:00</div>
<div class="t" style="left:322px;top:683px;letter-spacing:0.09px;">6 Feb 08:00</div>
<div class="t" style="left:386px;top:683px;letter-spacing:0.09px;">7 Feb 16:00</div>
<div class="t" style="left:450px;top:683px;letter-spacing:0.09px;">9 Feb 00:00</div>
<div class="t" style="left:514px;top:683px;letter-spacing:0.09px;">12 Feb 08:00</div>
<div class="t" style="left:578px;top:683px;letter-spacing:0.09px;">13 Feb 16:00</div>
<div class="t" style="left:642px;top:683px;letter-spacing:0.09px;">15 Feb 00:00</div>
<div class="t" style="left:706px;top:683px;letter-spacing:0.09px;">16 Feb 08:00</div>
<div class="t" style="left:770px;top:683px;letter-spacing:0.09px;">19 Feb 16:00</div>
<div class="t" style="left:834px;top:683px;letter-spacing:0.09px;">21 Feb 00:00</div>
<div class="t" style="left:898px;top:683px;letter-spacing:0.09px;">22 Feb 08:00</div>
<div class="t" style="left:962px;top:683px;letter-spacing:0.09px;">23 Feb 16:00</div>
<div class="t" style="left:1026px;top:683px;letter-spacing:0.09px;">27 Feb 00:00</div>
<div class="t" style="left:1090px;top:683px;letter-spacing:0.09px;">28 Feb 08:00</div>
<div class="t" style="left:7px;top:4px;letter-spacing:0.24px;">GBPUSD., H4:  Great Britan vs US Dollar</div>
<div class="t" style="left:6px;top:497px;letter-spacing:0.15px;">RSI(14) 42.46</div>
<div class="t" style="left:6px;top:595px;letter-spacing:0.27px;">AO 0.000163</div>
<div class="t" style="left:855.5px;top:126px;">1.27091</div>
<div class="t" style="left:926.5px;top:307px;">1.26110</div>
</div>
</body></html>
